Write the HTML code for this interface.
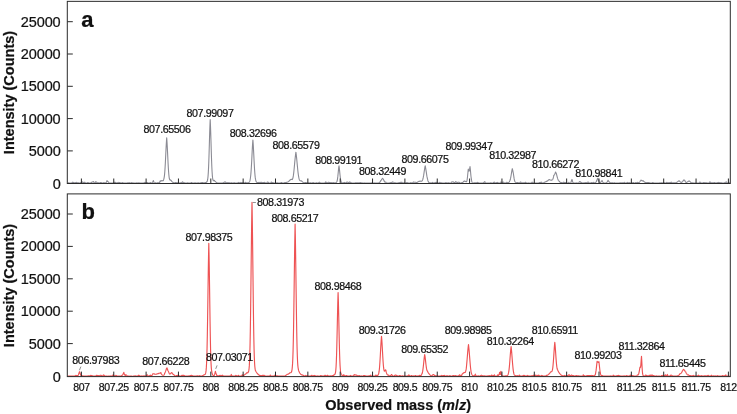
<!DOCTYPE html><html><head><meta charset="utf-8"><title>Mass spectra</title>
<style>html,body{margin:0;padding:0;background:#fff}svg{display:block;will-change:transform}text{font-family:"Liberation Sans",Arial,sans-serif;fill:#111;stroke:#111;stroke-width:0.22px}</style></head><body>
<svg width="737" height="414" viewBox="0 0 737 414">
<rect width="100%" height="100%" fill="#fff"/>
<path d="M67.80 182.99 L68.05 182.93 L68.30 182.84 L68.55 182.82 L68.80 182.80 L69.05 182.88 L69.30 182.94 L69.55 183.03 L69.80 183.07 L70.05 183.06 L70.30 183.04 L70.55 183.02 L70.80 183.00 L71.05 182.97 L71.30 182.93 L71.55 182.89 L71.80 182.86 L72.05 182.80 L72.30 182.74 L72.55 182.51 L72.80 182.20 L73.05 182.47 L73.30 182.68 L73.55 182.62 L73.80 182.55 L74.05 182.79 L74.30 182.95 L74.55 182.92 L74.80 182.89 L75.05 182.83 L75.30 182.77 L75.55 182.64 L75.80 182.49 L76.05 182.44 L76.30 182.39 L76.55 182.48 L76.80 182.57 L77.05 182.74 L77.30 182.86 L77.55 182.86 L77.80 182.86 L78.05 182.87 L78.30 182.89 L78.55 182.84 L78.80 182.77 L79.05 182.94 L79.30 183.04 L79.55 183.01 L79.80 182.97 L80.05 182.94 L80.30 182.91 L80.55 182.73 L80.80 182.46 L81.05 182.46 L81.30 182.45 L81.55 182.33 L81.80 182.19 L82.05 182.07 L82.30 181.93 L82.55 182.24 L82.80 182.49 L83.05 182.45 L83.30 182.40 L83.55 182.61 L83.80 182.78 L84.05 182.59 L84.30 182.34 L84.55 182.30 L84.80 182.25 L85.05 182.43 L85.30 182.59 L85.55 182.85 L85.80 183.00 L86.05 183.07 L86.30 183.09 L86.55 183.05 L86.80 182.93 L87.05 182.87 L87.30 182.79 L87.55 182.66 L87.80 182.49 L88.05 182.74 L88.30 182.91 L88.55 182.90 L88.80 182.88 L89.05 182.93 L89.30 182.98 L89.55 182.97 L89.80 182.96 L90.05 182.95 L90.30 182.93 L90.55 182.89 L90.80 182.84 L91.05 182.67 L91.30 182.45 L91.55 182.40 L91.80 182.35 L92.05 182.16 L92.30 181.93 L92.55 181.97 L92.80 182.00 L93.05 181.78 L93.30 181.53 L93.55 181.74 L93.80 181.93 L94.05 182.35 L94.30 182.65 L94.55 182.70 L94.80 182.74 L95.05 182.64 L95.30 182.52 L95.55 182.14 L95.80 181.61 L96.05 181.83 L96.30 182.04 L96.55 182.19 L96.80 182.33 L97.05 182.64 L97.30 182.86 L97.55 182.79 L97.80 182.70 L98.05 182.75 L98.30 182.79 L98.55 182.77 L98.80 182.75 L99.05 182.94 L99.30 183.04 L99.55 183.01 L99.80 182.97 L100.05 182.82 L100.30 182.59 L100.55 182.58 L100.80 182.57 L101.05 182.59 L101.30 182.61 L101.55 182.81 L101.80 182.94 L102.05 182.93 L102.30 182.91 L102.55 183.00 L102.80 183.05 L103.05 183.02 L103.30 182.97 L103.55 182.81 L103.80 182.57 L104.05 182.66 L104.30 182.75 L104.55 182.79 L104.80 182.83 L105.05 182.98 L105.30 183.05 L105.55 182.96 L105.80 182.78 L106.05 182.67 L106.30 182.39 L106.55 181.79 L106.80 181.05 L107.00 180.68 L107.05 180.72 L107.30 180.98 L107.55 181.36 L107.80 181.66 L108.05 181.84 L108.30 181.88 L108.55 182.33 L108.80 182.64 L109.05 182.79 L109.30 182.90 L109.55 182.97 L109.80 183.03 L110.05 183.05 L110.30 183.07 L110.55 183.07 L110.80 183.06 L111.05 183.07 L111.30 183.08 L111.55 183.04 L111.80 182.97 L112.05 182.97 L112.30 182.98 L112.55 183.03 L112.80 183.06 L113.05 183.04 L113.30 183.01 L113.55 182.99 L113.80 182.97 L114.05 182.75 L114.30 182.38 L114.55 182.37 L114.80 182.35 L115.05 182.32 L115.30 182.28 L115.55 182.53 L115.80 182.72 L116.05 182.83 L116.30 182.92 L116.55 182.86 L116.80 182.79 L117.05 182.74 L117.30 182.70 L117.55 182.69 L117.80 182.67 L118.05 182.68 L118.30 182.69 L118.55 182.56 L118.80 182.40 L119.05 182.43 L119.30 182.45 L119.55 182.54 L119.80 182.61 L120.05 182.69 L120.30 182.77 L120.55 182.84 L120.80 182.90 L121.05 182.93 L121.30 182.95 L121.55 182.90 L121.80 182.84 L122.05 182.77 L122.30 182.67 L122.55 182.58 L122.80 182.47 L123.05 182.82 L123.30 183.01 L123.55 183.02 L123.80 183.03 L124.05 183.03 L124.30 183.03 L124.55 183.02 L124.80 183.02 L125.05 183.00 L125.30 182.97 L125.55 182.96 L125.80 182.95 L126.05 182.94 L126.30 182.94 L126.55 182.93 L126.80 182.93 L127.05 182.96 L127.30 182.99 L127.55 182.87 L127.80 182.69 L128.05 182.78 L128.30 182.85 L128.55 182.79 L128.80 182.71 L129.05 182.69 L129.30 182.67 L129.55 182.78 L129.80 182.87 L130.05 182.99 L130.30 183.06 L130.55 183.06 L130.80 183.07 L131.05 182.96 L131.30 182.74 L131.55 182.68 L131.80 182.60 L132.05 182.69 L132.30 182.76 L132.55 182.86 L132.80 182.94 L133.05 182.93 L133.30 182.91 L133.55 182.93 L133.80 182.95 L134.05 182.99 L134.30 183.03 L134.55 183.02 L134.80 183.02 L135.05 182.99 L135.30 182.95 L135.55 182.95 L135.80 182.95 L136.05 182.95 L136.30 182.95 L136.55 182.91 L136.80 182.88 L137.05 182.93 L137.30 182.98 L137.55 182.95 L137.80 182.91 L138.05 182.92 L138.30 182.93 L138.55 182.87 L138.80 182.79 L139.05 182.88 L139.30 182.95 L139.55 182.94 L139.80 182.92 L140.05 182.94 L140.30 182.95 L140.55 182.96 L140.80 182.96 L141.05 183.02 L141.30 183.05 L141.55 183.00 L141.80 182.93 L142.05 182.95 L142.30 182.96 L142.55 182.98 L142.80 183.00 L143.05 183.04 L143.30 183.07 L143.55 183.00 L143.80 182.86 L144.05 182.83 L144.30 182.80 L144.55 182.62 L144.80 182.39 L145.05 182.68 L145.30 182.87 L145.55 182.89 L145.80 182.91 L146.05 182.95 L146.30 182.99 L146.55 182.85 L146.80 182.62 L147.05 182.57 L147.30 182.53 L147.55 182.69 L147.80 182.82 L148.05 182.98 L148.30 183.06 L148.55 183.06 L148.80 183.05 L149.05 183.05 L149.30 183.06 L149.55 182.98 L149.80 182.84 L150.05 182.75 L150.30 182.65 L150.55 182.65 L150.80 182.65 L151.05 182.82 L151.30 182.93 L151.55 182.94 L151.80 182.93 L152.05 182.82 L152.30 182.64 L152.55 182.27 L152.80 181.60 L153.05 181.16 L153.30 180.67 L153.40 180.55 L153.55 180.95 L153.80 181.76 L154.05 182.47 L154.30 182.86 L154.55 182.95 L154.80 182.93 L155.05 182.92 L155.30 182.90 L155.55 182.89 L155.80 182.88 L156.05 182.95 L156.30 183.00 L156.55 182.98 L156.80 182.96 L157.05 182.94 L157.30 182.92 L157.55 182.81 L157.80 182.65 L158.05 182.71 L158.30 182.76 L158.55 182.81 L158.80 182.83 L159.05 182.77 L159.30 182.70 L159.55 182.49 L159.80 182.17 L160.05 181.59 L160.30 180.75 L160.55 181.01 L160.80 181.20 L161.05 181.01 L161.30 180.82 L161.55 180.71 L161.80 180.60 L162.00 180.59 L162.05 180.61 L162.30 180.72 L162.55 180.80 L162.80 180.83 L163.05 180.76 L163.30 180.56 L163.55 179.97 L163.80 179.07 L164.05 178.12 L164.30 176.63 L164.55 174.60 L164.80 171.77 L165.05 168.08 L165.30 163.66 L165.55 158.70 L165.80 153.49 L166.05 148.38 L166.30 143.74 L166.55 139.81 L166.70 137.86 L166.80 139.11 L167.05 142.87 L167.30 147.40 L167.55 152.37 L167.80 157.45 L168.05 162.69 L168.30 167.40 L168.55 171.23 L168.80 174.23 L169.05 176.68 L169.30 178.46 L169.55 179.31 L169.80 179.55 L170.05 180.01 L170.30 180.26 L170.55 180.21 L170.80 180.08 L171.05 180.33 L171.30 180.54 L171.50 180.90 L171.55 181.00 L171.80 181.44 L172.05 181.64 L172.30 181.84 L172.55 182.08 L172.80 182.30 L173.05 182.42 L173.30 182.51 L173.55 182.64 L173.80 182.74 L174.05 182.75 L174.30 182.73 L174.55 182.73 L174.80 182.73 L175.05 182.66 L175.30 182.58 L175.55 182.55 L175.80 182.52 L176.05 182.56 L176.30 182.59 L176.55 182.82 L176.80 182.96 L177.05 182.92 L177.30 182.87 L177.55 182.84 L177.80 182.80 L178.05 182.63 L178.30 182.40 L178.55 182.62 L178.80 182.79 L179.05 182.86 L179.30 182.93 L179.55 182.97 L179.80 183.01 L180.05 182.93 L180.30 182.83 L180.55 182.83 L180.80 182.84 L181.05 182.77 L181.30 182.69 L181.55 182.65 L181.80 182.61 L182.05 182.32 L182.30 181.93 L182.55 181.90 L182.80 181.88 L183.05 182.43 L183.30 182.78 L183.55 182.83 L183.80 182.87 L184.05 182.86 L184.30 182.85 L184.55 182.84 L184.80 182.83 L185.05 182.91 L185.30 182.98 L185.55 183.05 L185.80 183.08 L186.05 183.06 L186.30 183.01 L186.55 182.99 L186.80 182.97 L187.05 182.93 L187.30 182.89 L187.55 182.83 L187.80 182.76 L188.05 182.87 L188.30 182.96 L188.55 183.02 L188.80 183.06 L189.05 183.09 L189.30 183.10 L189.55 183.10 L189.80 183.10 L190.05 183.10 L190.30 183.10 L190.55 183.07 L190.80 182.98 L191.05 182.84 L191.30 182.60 L191.55 182.59 L191.80 182.58 L192.05 182.75 L192.30 182.88 L192.55 182.98 L192.80 183.05 L193.05 183.02 L193.30 182.99 L193.55 183.01 L193.80 183.03 L194.05 182.99 L194.30 182.93 L194.55 182.88 L194.80 182.81 L195.05 182.81 L195.30 182.80 L195.55 182.91 L195.80 182.99 L196.05 183.02 L196.30 183.05 L196.55 183.07 L196.80 183.08 L197.05 183.06 L197.30 183.02 L197.55 182.97 L197.80 182.90 L198.05 182.84 L198.30 182.77 L198.55 182.89 L198.80 182.98 L199.05 183.04 L199.30 183.08 L199.55 183.08 L199.80 183.08 L200.05 183.05 L200.30 182.98 L200.55 182.87 L200.80 182.70 L201.05 182.69 L201.30 182.69 L201.55 182.62 L201.80 182.54 L202.05 182.60 L202.30 182.66 L202.55 182.64 L202.80 182.61 L203.05 182.75 L203.30 182.86 L203.55 182.88 L203.80 182.89 L204.05 182.82 L204.30 182.74 L204.55 182.71 L204.80 182.67 L205.05 182.58 L205.30 182.47 L205.55 182.50 L205.80 182.50 L206.05 182.46 L206.30 182.38 L206.55 182.25 L206.80 182.03 L207.05 181.61 L207.30 180.95 L207.55 180.01 L207.80 178.48 L208.05 176.12 L208.30 172.65 L208.55 167.88 L208.80 161.70 L209.05 154.15 L209.30 145.69 L209.55 137.12 L209.80 129.11 L210.05 122.65 L210.20 119.52 L210.30 121.56 L210.55 127.73 L210.80 135.26 L211.05 143.63 L211.30 152.01 L211.55 159.68 L211.80 166.15 L212.05 171.32 L212.30 175.08 L212.55 177.67 L212.80 179.28 L213.05 180.12 L213.30 180.50 L213.55 180.69 L213.80 180.75 L214.00 180.59 L214.05 180.58 L214.30 180.44 L214.55 180.72 L214.80 180.99 L215.05 181.23 L215.30 181.44 L215.55 181.72 L215.80 181.95 L216.05 182.18 L216.30 182.36 L216.55 182.62 L216.80 182.81 L217.05 182.86 L217.30 182.91 L217.55 183.00 L217.80 183.05 L218.05 183.05 L218.30 183.05 L218.55 183.04 L218.80 183.03 L219.05 183.03 L219.30 183.03 L219.55 183.03 L219.80 183.04 L220.05 183.08 L220.30 183.10 L220.55 183.08 L220.80 183.01 L221.05 183.00 L221.30 182.98 L221.55 183.00 L221.80 183.01 L222.05 183.01 L222.30 183.02 L222.55 183.02 L222.80 183.03 L223.05 182.90 L223.30 182.67 L223.55 182.72 L223.80 182.78 L224.05 182.52 L224.30 182.14 L224.55 182.08 L224.80 182.01 L225.05 182.07 L225.30 182.13 L225.55 182.15 L225.80 182.17 L226.05 182.62 L226.30 182.89 L226.55 182.85 L226.80 182.80 L227.05 182.87 L227.30 182.93 L227.55 182.77 L227.80 182.52 L228.05 182.76 L228.30 182.93 L228.55 182.88 L228.80 182.82 L229.05 182.75 L229.30 182.68 L229.55 182.70 L229.80 182.71 L230.05 182.84 L230.30 182.93 L230.55 182.99 L230.80 183.04 L231.05 182.93 L231.30 182.73 L231.55 182.76 L231.80 182.78 L232.05 182.88 L232.30 182.96 L232.55 183.03 L232.80 183.08 L233.05 183.05 L233.30 183.02 L233.55 182.93 L233.80 182.79 L234.05 182.75 L234.30 182.70 L234.55 182.78 L234.80 182.85 L235.05 182.93 L235.30 182.99 L235.55 182.99 L235.80 183.00 L236.05 182.99 L236.30 182.98 L236.55 183.02 L236.80 183.05 L237.05 183.04 L237.30 183.03 L237.55 182.95 L237.80 182.82 L238.05 182.73 L238.30 182.61 L238.55 182.50 L238.80 182.39 L239.05 182.72 L239.30 182.93 L239.55 182.87 L239.80 182.80 L240.05 182.80 L240.30 182.79 L240.55 182.62 L240.80 182.40 L241.05 182.48 L241.30 182.56 L241.55 182.66 L241.80 182.75 L242.05 182.76 L242.30 182.77 L242.55 182.65 L242.80 182.49 L243.05 182.63 L243.30 182.74 L243.55 182.89 L243.80 182.98 L244.05 183.00 L244.30 183.02 L244.55 182.89 L244.80 182.68 L245.05 182.52 L245.30 182.31 L245.55 182.46 L245.80 182.58 L246.05 182.64 L246.30 182.69 L246.55 182.77 L246.80 182.83 L247.05 182.84 L247.30 182.85 L247.55 182.88 L247.80 182.88 L248.05 182.80 L248.30 182.70 L248.55 182.61 L248.80 182.49 L249.05 182.32 L249.30 182.08 L249.55 181.70 L249.80 181.14 L250.05 180.18 L250.30 178.77 L250.55 177.03 L250.80 174.67 L251.05 171.63 L251.30 167.88 L251.55 163.69 L251.80 159.01 L252.05 153.88 L252.30 148.87 L252.55 144.63 L252.80 141.13 L252.90 139.96 L253.05 141.83 L253.30 145.59 L253.55 150.17 L253.80 155.14 L254.05 160.17 L254.30 164.95 L254.55 169.21 L254.80 172.81 L255.05 175.69 L255.30 177.88 L255.55 179.46 L255.80 180.57 L256.05 181.34 L256.30 181.85 L256.55 182.19 L256.80 182.42 L257.05 182.50 L257.30 182.49 L257.55 182.62 L257.80 182.72 L258.05 182.62 L258.30 182.43 L258.55 182.57 L258.80 182.69 L259.05 182.56 L259.30 182.38 L259.55 182.61 L259.80 182.78 L260.05 182.69 L260.30 182.57 L260.55 182.48 L260.80 182.38 L261.05 182.34 L261.30 182.29 L261.55 182.47 L261.80 182.62 L262.05 182.66 L262.30 182.69 L262.55 182.59 L262.80 182.46 L263.05 182.49 L263.30 182.53 L263.55 182.53 L263.80 182.52 L264.05 182.47 L264.30 182.43 L264.55 182.39 L264.80 182.36 L265.05 182.59 L265.30 182.77 L265.55 182.94 L265.80 183.04 L266.05 183.01 L266.30 182.98 L266.55 182.90 L266.80 182.78 L267.05 182.52 L267.30 182.15 L267.55 182.06 L267.80 181.97 L268.05 182.24 L268.30 182.46 L268.55 182.76 L268.80 182.94 L269.05 183.03 L269.30 183.08 L269.55 183.08 L269.80 183.08 L270.05 183.05 L270.30 182.99 L270.55 182.88 L270.80 182.71 L271.05 182.41 L271.30 182.00 L271.55 182.28 L271.80 182.50 L272.05 182.50 L272.30 182.50 L272.55 182.72 L272.80 182.88 L273.05 182.84 L273.30 182.80 L273.55 182.84 L273.80 182.87 L274.05 182.92 L274.30 182.96 L274.55 183.01 L274.80 183.05 L275.05 183.04 L275.30 183.02 L275.55 183.00 L275.80 182.97 L276.05 182.92 L276.30 182.86 L276.55 182.92 L276.80 182.96 L277.05 182.89 L277.30 182.79 L277.55 182.88 L277.80 182.95 L278.05 182.99 L278.30 183.02 L278.55 183.05 L278.80 183.06 L279.05 183.02 L279.30 182.95 L279.55 182.97 L279.80 182.99 L280.05 182.97 L280.30 182.94 L280.55 182.84 L280.80 182.70 L281.05 182.64 L281.30 182.57 L281.55 182.58 L281.80 182.60 L282.05 182.86 L282.30 183.01 L282.55 183.02 L282.80 183.03 L283.05 183.01 L283.30 183.00 L283.55 183.00 L283.80 182.99 L284.05 182.89 L284.30 182.73 L284.55 182.65 L284.80 182.55 L285.05 182.55 L285.30 182.54 L285.55 182.51 L285.80 182.47 L286.05 182.64 L286.30 182.74 L286.55 182.51 L286.80 182.18 L287.05 182.20 L287.30 182.18 L287.55 182.10 L287.80 181.99 L288.05 181.87 L288.30 181.71 L288.55 181.54 L288.80 181.34 L289.05 180.93 L289.30 180.46 L289.55 180.40 L289.80 180.32 L290.05 180.06 L290.30 179.81 L290.50 179.61 L290.55 179.61 L290.80 179.60 L291.05 179.46 L291.30 179.26 L291.55 179.39 L291.80 179.44 L292.05 179.62 L292.30 179.51 L292.55 179.02 L292.80 178.29 L293.05 177.28 L293.30 175.95 L293.55 174.20 L293.80 172.07 L294.05 169.73 L294.30 167.15 L294.55 164.41 L294.80 161.61 L295.05 159.18 L295.30 156.87 L295.55 154.69 L295.80 152.85 L295.90 152.20 L296.05 153.18 L296.30 155.09 L296.55 157.34 L296.80 159.85 L297.05 162.46 L297.30 165.11 L297.55 167.76 L297.80 170.26 L298.05 172.53 L298.30 174.52 L298.55 176.15 L298.80 177.47 L299.05 178.64 L299.30 179.51 L299.55 180.03 L299.80 180.36 L300.05 180.64 L300.30 180.83 L300.55 180.82 L300.80 180.75 L301.00 180.71 L301.05 180.73 L301.30 180.82 L301.55 181.02 L301.80 181.22 L302.05 181.44 L302.30 181.65 L302.55 181.88 L302.80 182.10 L303.05 182.32 L303.30 182.51 L303.55 182.65 L303.80 182.75 L304.05 182.81 L304.30 182.83 L304.55 182.80 L304.80 182.71 L305.05 182.59 L305.30 182.43 L305.55 182.43 L305.80 182.43 L306.05 182.60 L306.30 182.74 L306.55 182.82 L306.80 182.89 L307.05 182.96 L307.30 183.01 L307.55 182.94 L307.80 182.83 L308.05 182.88 L308.30 182.93 L308.55 182.91 L308.80 182.88 L309.05 183.00 L309.30 183.06 L309.55 182.98 L309.80 182.84 L310.05 182.88 L310.30 182.91 L310.55 182.89 L310.80 182.87 L311.05 182.95 L311.30 183.00 L311.55 182.98 L311.80 182.95 L312.05 182.85 L312.30 182.73 L312.55 182.74 L312.80 182.76 L313.05 182.66 L313.30 182.54 L313.55 182.78 L313.80 182.93 L314.05 182.95 L314.30 182.96 L314.55 183.05 L314.80 183.09 L315.05 183.09 L315.30 183.09 L315.55 183.07 L315.80 183.03 L316.05 182.94 L316.30 182.79 L316.55 182.77 L316.80 182.75 L317.05 182.90 L317.30 183.00 L317.55 183.04 L317.80 183.06 L318.05 183.01 L318.30 182.92 L318.55 182.76 L318.80 182.53 L319.05 182.38 L319.30 182.20 L319.55 182.28 L319.80 182.36 L320.05 182.66 L320.30 182.86 L320.55 182.93 L320.80 182.99 L321.05 183.04 L321.30 183.07 L321.55 183.04 L321.80 183.00 L322.05 182.97 L322.30 182.94 L322.55 182.94 L322.80 182.94 L323.05 182.99 L323.30 183.02 L323.55 182.99 L323.80 182.96 L324.05 182.99 L324.30 183.01 L324.55 182.92 L324.80 182.79 L325.05 182.76 L325.30 182.72 L325.55 182.34 L325.80 181.75 L326.05 182.04 L326.30 182.29 L326.55 182.46 L326.80 182.61 L327.05 182.74 L327.30 182.84 L327.55 182.77 L327.80 182.69 L328.05 182.53 L328.30 182.33 L328.55 182.27 L328.80 182.21 L329.05 182.39 L329.30 182.55 L329.55 182.59 L329.80 182.64 L330.05 182.71 L330.30 182.77 L330.55 182.68 L330.80 182.56 L331.05 182.61 L331.30 182.66 L331.55 182.81 L331.80 182.92 L332.05 182.89 L332.30 182.85 L332.55 182.86 L332.80 182.88 L333.05 182.74 L333.30 182.56 L333.55 182.65 L333.80 182.73 L334.05 182.78 L334.30 182.83 L334.55 182.88 L334.80 182.92 L335.05 182.90 L335.30 182.87 L335.55 182.89 L335.80 182.87 L336.05 182.76 L336.30 182.58 L336.55 182.32 L336.80 181.90 L337.05 181.16 L337.30 180.04 L337.55 178.58 L337.80 176.67 L338.05 174.30 L338.30 171.73 L338.55 169.14 L338.80 166.84 L339.00 165.77 L339.05 166.11 L339.30 168.06 L339.55 170.33 L339.80 172.83 L340.05 175.32 L340.30 177.53 L340.55 179.27 L340.80 180.56 L341.05 181.51 L341.30 182.12 L341.55 182.50 L341.80 182.72 L342.05 182.83 L342.30 182.90 L342.55 182.94 L342.80 182.96 L343.05 182.90 L343.30 182.77 L343.55 182.72 L343.80 182.64 L344.05 182.52 L344.30 182.38 L344.55 182.49 L344.80 182.59 L345.05 182.67 L345.30 182.73 L345.55 182.74 L345.80 182.74 L346.05 182.77 L346.30 182.80 L346.55 182.52 L346.80 182.10 L347.05 182.19 L347.30 182.27 L347.55 182.19 L347.80 182.11 L348.05 182.43 L348.30 182.67 L348.55 182.64 L348.80 182.60 L349.05 182.53 L349.30 182.44 L349.55 182.16 L349.80 181.81 L350.05 182.07 L350.30 182.29 L350.55 182.38 L350.80 182.46 L351.05 182.62 L351.30 182.75 L351.55 182.85 L351.80 182.92 L352.05 183.03 L352.30 183.08 L352.55 183.09 L352.80 183.10 L353.05 183.10 L353.30 183.10 L353.55 183.10 L353.80 183.09 L354.05 183.08 L354.30 183.05 L354.55 183.00 L354.80 182.92 L355.05 182.83 L355.30 182.72 L355.55 182.74 L355.80 182.77 L356.05 182.78 L356.30 182.79 L356.55 182.86 L356.80 182.91 L357.05 182.90 L357.30 182.89 L357.55 182.87 L357.80 182.84 L358.05 182.81 L358.30 182.79 L358.55 182.86 L358.80 182.92 L359.05 182.89 L359.30 182.86 L359.55 182.78 L359.80 182.67 L360.05 182.60 L360.30 182.53 L360.55 182.73 L360.80 182.87 L361.05 182.91 L361.30 182.95 L361.55 182.91 L361.80 182.85 L362.05 182.89 L362.30 182.92 L362.55 183.01 L362.80 183.06 L363.05 183.08 L363.30 183.09 L363.55 183.07 L363.80 183.03 L364.05 183.01 L364.30 182.99 L364.55 182.95 L364.80 182.90 L365.05 183.00 L365.30 183.06 L365.55 183.06 L365.80 183.05 L366.05 183.07 L366.30 183.09 L366.55 183.08 L366.80 183.06 L367.05 183.07 L367.30 183.07 L367.55 183.08 L367.80 183.08 L368.05 183.09 L368.30 183.10 L368.55 183.10 L368.80 183.10 L369.05 183.09 L369.30 183.07 L369.55 183.07 L369.80 183.07 L370.05 183.08 L370.30 183.09 L370.55 183.09 L370.80 183.09 L371.05 183.07 L371.30 183.05 L371.55 182.97 L371.80 182.82 L372.05 182.91 L372.30 182.98 L372.55 182.98 L372.80 182.98 L373.05 183.02 L373.30 183.05 L373.55 183.05 L373.80 183.06 L374.05 183.00 L374.30 182.90 L374.55 182.93 L374.80 182.96 L375.05 182.95 L375.30 182.94 L375.55 183.01 L375.80 183.05 L376.05 183.05 L376.30 183.05 L376.55 183.01 L376.80 182.93 L377.05 182.95 L377.30 182.96 L377.55 182.96 L377.80 182.95 L378.05 182.99 L378.30 183.00 L378.55 182.96 L378.80 182.89 L379.05 182.82 L379.30 182.71 L379.55 182.47 L379.80 182.10 L380.05 181.97 L380.30 181.77 L380.55 181.23 L380.80 180.54 L381.05 180.33 L381.30 180.03 L381.55 179.61 L381.80 179.19 L382.05 178.90 L382.30 178.60 L382.50 178.32 L382.55 178.37 L382.80 178.61 L383.05 178.91 L383.30 179.25 L383.55 179.70 L383.80 180.16 L384.05 180.83 L384.30 181.38 L384.55 181.75 L384.80 182.05 L385.05 182.18 L385.30 182.20 L385.55 182.15 L385.80 182.01 L386.05 182.40 L386.30 182.68 L386.55 182.90 L386.80 183.00 L387.05 183.04 L387.30 183.05 L387.55 183.06 L387.80 183.07 L388.05 183.07 L388.30 183.08 L388.55 183.08 L388.80 183.08 L389.05 183.08 L389.30 183.06 L389.55 182.97 L389.80 182.79 L390.05 182.75 L390.30 182.70 L390.55 182.58 L390.80 182.44 L391.05 182.62 L391.30 182.77 L391.55 182.55 L391.80 182.26 L392.05 182.29 L392.30 182.32 L392.55 182.05 L392.80 181.72 L393.05 182.23 L393.30 182.60 L393.55 182.81 L393.80 182.95 L394.05 183.00 L394.30 183.04 L394.55 182.90 L394.80 182.63 L395.05 182.71 L395.30 182.78 L395.55 182.86 L395.80 182.93 L396.05 182.95 L396.30 182.96 L396.55 182.96 L396.80 182.95 L397.05 182.94 L397.30 182.92 L397.55 183.00 L397.80 183.06 L398.05 183.00 L398.30 182.90 L398.55 182.76 L398.80 182.56 L399.05 182.63 L399.30 182.68 L399.55 182.66 L399.80 182.64 L400.05 182.71 L400.30 182.77 L400.55 182.53 L400.80 182.20 L401.05 182.30 L401.30 182.40 L401.55 182.30 L401.80 182.19 L402.05 182.44 L402.30 182.64 L402.55 182.69 L402.80 182.74 L403.05 182.92 L403.30 183.02 L403.55 182.97 L403.80 182.89 L404.05 182.87 L404.30 182.86 L404.55 182.85 L404.80 182.84 L405.05 182.96 L405.30 183.04 L405.55 183.02 L405.80 182.98 L406.05 182.93 L406.30 182.85 L406.55 182.69 L406.80 182.48 L407.05 182.62 L407.30 182.74 L407.55 182.77 L407.80 182.81 L408.05 182.93 L408.30 183.02 L408.55 182.97 L408.80 182.92 L409.05 182.99 L409.30 183.04 L409.55 183.01 L409.80 182.97 L410.05 182.96 L410.30 182.95 L410.55 182.81 L410.80 182.59 L411.05 182.72 L411.30 182.83 L411.55 182.94 L411.80 183.01 L412.05 182.99 L412.30 182.96 L412.55 182.86 L412.80 182.70 L413.05 182.45 L413.30 182.10 L413.55 182.08 L413.80 182.05 L414.05 182.16 L414.30 182.25 L414.55 182.23 L414.80 182.20 L415.05 182.25 L415.30 182.29 L415.55 182.31 L415.80 182.32 L416.05 182.46 L416.30 182.54 L416.55 182.59 L416.80 182.57 L417.05 182.47 L417.30 182.36 L417.55 182.18 L417.80 181.96 L418.05 181.82 L418.30 181.68 L418.55 181.51 L418.80 181.33 L419.05 181.39 L419.30 181.36 L419.55 181.25 L419.80 181.15 L420.00 181.06 L420.05 181.07 L420.30 181.12 L420.55 181.16 L420.80 181.19 L421.05 181.23 L421.30 181.24 L421.55 181.25 L421.80 181.16 L422.05 180.95 L422.30 180.59 L422.55 180.03 L422.80 179.24 L423.05 178.34 L423.30 177.21 L423.55 175.89 L423.80 174.37 L424.05 172.66 L424.30 170.92 L424.55 169.26 L424.80 167.76 L425.05 166.43 L425.20 165.75 L425.30 166.13 L425.55 167.52 L425.80 169.09 L426.05 170.62 L426.30 172.20 L426.55 173.93 L426.80 175.57 L427.05 176.92 L427.30 178.04 L427.55 179.23 L427.80 180.19 L428.05 181.00 L428.30 181.60 L428.55 182.08 L428.80 182.40 L429.05 182.60 L429.30 182.74 L429.55 182.79 L429.80 182.79 L430.05 182.84 L430.30 182.88 L430.55 182.91 L430.80 182.94 L431.05 182.94 L431.30 182.94 L431.55 182.93 L431.80 182.93 L432.05 182.75 L432.30 182.43 L432.55 182.76 L432.80 182.96 L433.05 182.92 L433.30 182.86 L433.55 182.99 L433.80 183.06 L434.05 182.98 L434.30 182.84 L434.55 182.80 L434.80 182.75 L435.05 182.61 L435.30 182.43 L435.55 182.46 L435.80 182.49 L436.05 182.37 L436.30 182.23 L436.55 182.39 L436.80 182.53 L437.05 182.60 L437.30 182.66 L437.55 182.79 L437.80 182.90 L438.05 182.95 L438.30 182.99 L438.55 182.95 L438.80 182.90 L439.05 182.87 L439.30 182.83 L439.55 182.60 L439.80 182.27 L440.05 182.57 L440.30 182.79 L440.55 182.81 L440.80 182.82 L441.05 182.91 L441.30 182.97 L441.55 182.87 L441.80 182.72 L442.05 182.85 L442.30 182.95 L442.55 182.97 L442.80 182.99 L443.05 183.02 L443.30 183.05 L443.55 183.05 L443.80 183.05 L444.05 183.03 L444.30 183.00 L444.55 182.96 L444.80 182.92 L445.05 182.83 L445.30 182.73 L445.55 182.70 L445.80 182.67 L446.05 182.71 L446.30 182.75 L446.55 182.81 L446.80 182.87 L447.05 182.93 L447.30 182.98 L447.55 182.91 L447.80 182.82 L448.05 182.79 L448.30 182.75 L448.55 182.73 L448.80 182.70 L449.05 182.94 L449.30 183.05 L449.55 183.06 L449.80 183.07 L450.05 183.08 L450.30 183.09 L450.55 183.05 L450.80 182.93 L451.05 182.82 L451.30 182.66 L451.55 182.34 L451.80 181.91 L452.05 181.87 L452.30 181.83 L452.55 181.91 L452.80 181.99 L453.05 181.95 L453.30 181.91 L453.55 182.20 L453.80 182.44 L454.05 182.53 L454.30 182.61 L454.55 182.60 L454.80 182.59 L455.05 182.43 L455.30 182.24 L455.55 181.90 L455.80 181.49 L456.05 181.86 L456.30 182.16 L456.55 182.24 L456.80 182.31 L457.05 182.57 L457.30 182.76 L457.55 182.58 L457.80 182.34 L458.05 182.26 L458.30 182.17 L458.55 182.24 L458.80 182.30 L459.05 182.33 L459.30 182.36 L459.55 182.67 L459.80 182.88 L460.05 182.91 L460.30 182.94 L460.55 182.97 L460.80 182.98 L461.05 182.95 L461.30 182.91 L461.55 182.80 L461.80 182.65 L462.05 182.60 L462.30 182.51 L462.55 182.43 L462.80 182.31 L463.05 182.08 L463.30 181.82 L463.55 181.67 L463.80 181.51 L464.05 181.25 L464.30 180.99 L464.50 180.94 L464.55 180.98 L464.80 181.18 L465.05 181.27 L465.30 181.35 L465.55 181.45 L465.80 181.51 L466.05 181.63 L466.30 181.65 L466.55 181.62 L466.80 181.19 L467.05 180.18 L467.30 178.55 L467.55 176.31 L467.80 173.75 L468.05 171.25 L468.30 169.06 L468.55 169.96 L468.80 170.82 L469.05 171.16 L469.30 170.67 L469.55 169.39 L469.80 167.80 L470.00 166.56 L470.05 166.93 L470.30 169.01 L470.55 171.79 L470.80 174.58 L471.05 176.98 L471.30 178.70 L471.55 180.38 L471.80 181.45 L472.05 182.19 L472.30 182.62 L472.55 182.82 L472.80 182.93 L473.05 182.96 L473.30 182.98 L473.55 182.95 L473.80 182.91 L474.05 182.87 L474.30 182.82 L474.55 182.85 L474.80 182.88 L475.05 182.80 L475.30 182.70 L475.55 182.78 L475.80 182.85 L476.05 182.83 L476.30 182.80 L476.55 182.79 L476.80 182.78 L477.05 182.60 L477.30 182.36 L477.55 182.45 L477.80 182.52 L478.05 182.76 L478.30 182.92 L478.55 182.92 L478.80 182.92 L479.05 182.97 L479.30 183.01 L479.55 183.03 L479.80 183.04 L480.05 183.06 L480.30 183.08 L480.55 183.04 L480.80 182.97 L481.05 182.97 L481.30 182.96 L481.55 183.03 L481.80 183.07 L482.05 183.09 L482.30 183.09 L482.55 183.07 L482.80 183.02 L483.05 182.96 L483.30 182.88 L483.55 182.65 L483.80 182.30 L484.05 182.29 L484.30 182.29 L484.55 181.97 L484.80 181.58 L485.05 182.24 L485.30 182.67 L485.55 182.85 L485.80 182.97 L486.05 183.07 L486.30 183.10 L486.55 183.09 L486.80 183.08 L487.05 183.07 L487.30 183.06 L487.55 183.06 L487.80 183.06 L488.05 183.05 L488.30 183.04 L488.55 183.06 L488.80 183.08 L489.05 183.06 L489.30 183.04 L489.55 183.06 L489.80 183.08 L490.05 183.03 L490.30 182.92 L490.55 182.89 L490.80 182.87 L491.05 182.87 L491.30 182.86 L491.55 183.00 L491.80 183.07 L492.05 183.07 L492.30 183.07 L492.55 183.04 L492.80 183.00 L493.05 182.89 L493.30 182.72 L493.55 182.54 L493.80 182.30 L494.05 182.20 L494.30 182.09 L494.55 182.34 L494.80 182.54 L495.05 182.81 L495.30 182.98 L495.55 182.98 L495.80 182.99 L496.05 182.89 L496.30 182.75 L496.55 182.62 L496.80 182.46 L497.05 182.43 L497.30 182.39 L497.55 182.50 L497.80 182.60 L498.05 182.69 L498.30 182.76 L498.55 182.93 L498.80 183.03 L499.05 183.07 L499.30 183.09 L499.55 183.08 L499.80 183.06 L500.05 182.98 L500.30 182.82 L500.55 182.51 L500.80 182.03 L501.05 182.14 L501.30 182.24 L501.55 182.37 L501.80 182.48 L502.05 182.47 L502.30 182.46 L502.55 182.28 L502.80 182.07 L503.05 182.11 L503.30 182.15 L503.55 182.43 L503.80 182.64 L504.05 182.74 L504.30 182.83 L504.55 182.92 L504.80 182.99 L505.05 183.01 L505.30 183.03 L505.55 183.01 L505.80 182.99 L506.05 182.85 L506.30 182.59 L506.55 182.43 L506.80 182.24 L507.05 182.36 L507.30 182.47 L507.55 182.68 L507.80 182.80 L508.05 182.78 L508.30 182.74 L508.55 182.59 L508.80 182.38 L509.05 182.18 L509.30 181.90 L509.55 181.35 L509.80 180.60 L510.05 180.21 L510.30 179.52 L510.55 178.45 L510.80 177.16 L511.05 175.77 L511.30 174.27 L511.55 172.69 L511.80 171.21 L512.05 169.85 L512.30 168.68 L512.55 169.58 L512.80 170.69 L513.05 171.84 L513.30 173.04 L513.55 174.77 L513.80 176.40 L514.05 178.13 L514.30 179.52 L514.55 180.50 L514.80 181.26 L515.05 181.78 L515.30 182.15 L515.55 182.32 L515.80 182.38 L516.05 182.57 L516.30 182.71 L516.55 182.73 L516.80 182.73 L517.05 182.64 L517.30 182.51 L517.55 182.59 L517.80 182.67 L518.05 182.69 L518.30 182.71 L518.55 182.86 L518.80 182.96 L519.05 182.90 L519.30 182.81 L519.55 182.75 L519.80 182.67 L520.05 182.43 L520.30 182.11 L520.55 182.03 L520.80 181.95 L521.05 182.37 L521.30 182.67 L521.55 182.68 L521.80 182.70 L522.05 182.84 L522.30 182.94 L522.55 182.90 L522.80 182.86 L523.05 182.88 L523.30 182.90 L523.55 182.87 L523.80 182.84 L524.05 182.87 L524.30 182.89 L524.55 182.86 L524.80 182.83 L525.05 182.63 L525.30 182.36 L525.55 182.33 L525.80 182.31 L526.05 182.57 L526.30 182.77 L526.55 182.93 L526.80 183.03 L527.05 183.05 L527.30 183.06 L527.55 183.07 L527.80 183.08 L528.05 183.02 L528.30 182.91 L528.55 182.92 L528.80 182.93 L529.05 182.94 L529.30 182.94 L529.55 183.05 L529.80 183.09 L530.05 183.09 L530.30 183.09 L530.55 183.08 L530.80 183.06 L531.05 183.01 L531.30 182.92 L531.55 182.72 L531.80 182.41 L532.05 182.36 L532.30 182.30 L532.55 182.26 L532.80 182.22 L533.05 182.62 L533.30 182.87 L533.55 182.94 L533.80 183.00 L534.05 182.98 L534.30 182.95 L534.55 182.94 L534.80 182.93 L535.05 182.93 L535.30 182.94 L535.55 183.01 L535.80 183.05 L536.05 183.04 L536.30 183.02 L536.55 182.98 L536.80 182.93 L537.05 183.00 L537.30 183.04 L537.55 183.05 L537.80 183.05 L538.05 183.01 L538.30 182.95 L538.55 182.93 L538.80 182.91 L539.05 182.74 L539.30 182.49 L539.55 182.77 L539.80 182.94 L540.05 182.74 L540.30 182.41 L540.55 182.51 L540.80 182.60 L541.05 182.40 L541.30 182.14 L541.55 182.55 L541.80 182.81 L542.05 182.91 L542.30 182.97 L542.55 182.94 L542.80 182.91 L543.05 182.89 L543.30 182.86 L543.55 182.81 L543.80 182.75 L544.05 182.69 L544.30 182.62 L544.55 182.41 L544.80 182.11 L545.05 182.07 L545.30 182.02 L545.55 181.85 L545.80 181.67 L546.05 181.65 L546.30 181.60 L546.55 181.34 L546.80 181.05 L547.05 181.13 L547.30 181.09 L547.55 180.91 L547.80 180.74 L548.05 180.48 L548.30 180.18 L548.55 179.97 L548.80 179.76 L549.05 179.68 L549.30 179.60 L549.50 179.61 L549.55 179.65 L549.80 179.79 L550.05 179.89 L550.30 179.99 L550.55 180.09 L550.80 180.17 L551.05 180.18 L551.30 180.11 L551.55 180.13 L551.80 180.10 L552.05 180.03 L552.30 179.88 L552.55 179.62 L552.80 179.27 L553.05 178.62 L553.30 177.73 L553.55 176.65 L553.80 175.33 L554.05 175.18 L554.30 174.87 L554.55 174.43 L554.80 173.93 L555.05 173.29 L555.30 172.71 L555.55 172.15 L555.60 172.04 L555.80 172.41 L556.05 172.89 L556.30 173.42 L556.55 174.47 L556.80 175.48 L557.05 176.41 L557.30 177.32 L557.55 178.17 L557.80 178.95 L558.05 179.62 L558.30 180.19 L558.55 180.59 L558.80 180.81 L559.05 181.10 L559.30 181.30 L559.55 181.68 L559.80 181.98 L560.05 182.22 L560.30 182.40 L560.55 182.52 L560.80 182.62 L561.05 182.65 L561.30 182.67 L561.55 182.62 L561.80 182.54 L562.05 182.64 L562.30 182.73 L562.55 182.72 L562.80 182.72 L563.05 182.70 L563.30 182.67 L563.55 182.42 L563.80 182.08 L564.05 182.32 L564.30 182.52 L564.55 182.51 L564.80 182.50 L565.05 182.51 L565.30 182.51 L565.55 182.52 L565.80 182.53 L566.05 182.78 L566.30 182.94 L566.55 183.03 L566.80 183.07 L567.05 183.08 L567.30 183.08 L567.55 183.05 L567.80 182.96 L568.05 182.92 L568.30 182.88 L568.55 182.63 L568.80 182.25 L569.05 182.65 L569.30 182.90 L569.55 182.97 L569.80 183.02 L570.05 183.02 L570.30 183.01 L570.55 182.89 L570.80 182.68 L571.05 182.15 L571.30 181.17 L571.55 180.59 L571.80 179.84 L572.00 179.43 L572.05 179.58 L572.30 180.51 L572.55 181.48 L572.80 182.16 L573.05 182.62 L573.30 182.86 L573.55 182.88 L573.80 182.89 L574.05 182.95 L574.30 183.01 L574.55 183.00 L574.80 182.99 L575.05 182.99 L575.30 182.98 L575.55 182.99 L575.80 183.01 L576.05 182.96 L576.30 182.89 L576.55 182.93 L576.80 182.97 L577.05 182.97 L577.30 182.97 L577.55 183.00 L577.80 183.02 L578.05 182.98 L578.30 182.95 L578.55 182.79 L578.80 182.56 L579.05 182.29 L579.30 181.93 L579.55 181.74 L579.80 181.53 L580.05 181.65 L580.30 181.76 L580.55 182.20 L580.80 182.53 L581.05 182.48 L581.30 182.42 L581.55 182.66 L581.80 182.84 L582.05 182.88 L582.30 182.91 L582.55 182.99 L582.80 183.05 L583.05 183.00 L583.30 182.92 L583.55 182.87 L583.80 182.81 L584.05 182.77 L584.30 182.73 L584.55 182.86 L584.80 182.95 L585.05 182.81 L585.30 182.60 L585.55 182.67 L585.80 182.74 L586.05 182.67 L586.30 182.60 L586.55 182.75 L586.80 182.87 L587.05 182.76 L587.30 182.61 L587.55 182.38 L587.80 182.10 L588.05 182.10 L588.30 182.10 L588.55 182.35 L588.80 182.55 L589.05 182.69 L589.30 182.81 L589.55 182.92 L589.80 182.99 L590.05 183.00 L590.30 183.00 L590.55 182.96 L590.80 182.92 L591.05 182.74 L591.30 182.47 L591.55 182.62 L591.80 182.75 L592.05 182.75 L592.30 182.74 L592.55 182.85 L592.80 182.94 L593.05 182.70 L593.30 182.29 L593.55 182.52 L593.80 182.71 L594.05 182.75 L594.30 182.80 L594.55 182.89 L594.80 182.95 L595.05 182.84 L595.30 182.67 L595.55 182.54 L595.80 182.35 L596.05 182.01 L596.30 181.53 L596.55 181.14 L596.80 180.58 L597.05 179.86 L597.30 179.11 L597.55 178.61 L597.80 178.21 L598.05 178.79 L598.30 179.52 L598.55 180.30 L598.80 181.05 L599.05 181.67 L599.30 182.13 L599.55 182.42 L599.80 182.58 L600.05 182.55 L600.30 182.41 L600.55 182.27 L600.80 182.02 L601.05 181.94 L601.30 181.65 L601.55 181.26 L601.80 180.84 L602.00 180.55 L602.05 180.62 L602.30 181.07 L602.55 181.58 L602.80 182.05 L603.05 182.46 L603.30 182.73 L603.55 182.90 L603.80 182.99 L604.05 183.04 L604.30 183.07 L604.55 183.07 L604.80 183.07 L605.05 183.07 L605.30 183.07 L605.55 183.06 L605.80 183.04 L606.05 182.96 L606.30 182.83 L606.55 182.65 L606.80 182.38 L607.05 182.10 L607.30 181.65 L607.55 181.20 L607.80 180.73 L608.00 180.30 L608.05 180.33 L608.30 180.58 L608.55 181.00 L608.80 181.32 L609.05 181.87 L609.30 182.23 L609.55 182.36 L609.80 182.46 L610.05 182.76 L610.30 182.95 L610.55 182.86 L610.80 182.75 L611.05 182.83 L611.30 182.91 L611.55 182.82 L611.80 182.72 L612.05 182.71 L612.30 182.71 L612.55 182.74 L612.80 182.77 L613.05 182.85 L613.30 182.91 L613.55 182.93 L613.80 182.94 L614.05 182.87 L614.30 182.79 L614.55 182.82 L614.80 182.85 L615.05 183.00 L615.30 183.07 L615.55 183.09 L615.80 183.09 L616.05 183.09 L616.30 183.10 L616.55 183.06 L616.80 182.98 L617.05 183.00 L617.30 183.02 L617.55 182.99 L617.80 182.94 L618.05 183.01 L618.30 183.06 L618.55 183.02 L618.80 182.98 L619.05 182.96 L619.30 182.93 L619.55 182.88 L619.80 182.81 L620.05 182.77 L620.30 182.73 L620.55 182.73 L620.80 182.72 L621.05 182.87 L621.30 182.98 L621.55 182.92 L621.80 182.85 L622.05 182.78 L622.30 182.70 L622.55 182.70 L622.80 182.70 L623.05 182.86 L623.30 182.97 L623.55 182.96 L623.80 182.95 L624.05 182.72 L624.30 182.33 L624.55 182.51 L624.80 182.66 L625.05 182.88 L625.30 183.01 L625.55 183.06 L625.80 183.09 L626.05 183.07 L626.30 183.04 L626.55 182.92 L626.80 182.67 L627.05 182.54 L627.30 182.38 L627.55 182.42 L627.80 182.47 L628.05 182.66 L628.30 182.81 L628.55 182.87 L628.80 182.93 L629.05 182.79 L629.30 182.61 L629.55 182.69 L629.80 182.76 L630.05 182.81 L630.30 182.86 L630.55 183.01 L630.80 183.08 L631.05 183.05 L631.30 183.00 L631.55 183.04 L631.80 183.07 L632.05 182.98 L632.30 182.80 L632.55 182.83 L632.80 182.86 L633.05 182.70 L633.30 182.48 L633.55 182.79 L633.80 182.98 L634.05 183.02 L634.30 183.05 L634.55 183.05 L634.80 183.06 L635.05 182.98 L635.30 182.82 L635.55 182.73 L635.80 182.62 L636.05 182.68 L636.30 182.74 L636.55 182.70 L636.80 182.65 L637.05 182.60 L637.30 182.54 L637.55 182.43 L637.80 182.29 L638.05 182.60 L638.30 182.78 L638.55 182.79 L638.80 182.74 L639.05 182.55 L639.30 182.28 L639.55 182.04 L639.80 181.74 L640.05 181.34 L640.30 180.91 L640.55 180.62 L640.80 180.36 L641.00 180.11 L641.05 180.13 L641.30 180.28 L641.55 180.46 L641.80 180.66 L642.05 180.82 L642.30 180.94 L642.55 180.86 L642.80 180.67 L643.05 180.76 L643.30 180.80 L643.55 181.22 L643.80 181.50 L644.00 181.66 L644.05 181.72 L644.30 181.93 L644.55 182.05 L644.80 182.17 L645.05 182.26 L645.30 182.36 L645.55 182.45 L645.80 182.54 L646.05 182.58 L646.30 182.58 L646.55 182.67 L646.80 182.75 L647.05 182.65 L647.30 182.47 L647.55 182.48 L647.80 182.47 L648.05 182.53 L648.30 182.58 L648.55 182.55 L648.80 182.52 L649.05 182.72 L649.30 182.87 L649.55 182.85 L649.80 182.83 L650.05 182.98 L650.30 183.06 L650.55 183.08 L650.80 183.09 L651.05 183.08 L651.30 183.07 L651.55 183.06 L651.80 183.04 L652.05 182.93 L652.30 182.72 L652.55 182.59 L652.80 182.45 L653.05 182.59 L653.30 182.71 L653.55 182.84 L653.80 182.94 L654.05 183.01 L654.30 183.05 L654.55 183.04 L654.80 183.03 L655.05 183.05 L655.30 183.06 L655.55 183.07 L655.80 183.08 L656.05 183.04 L656.30 182.97 L656.55 182.96 L656.80 182.94 L657.05 182.97 L657.30 182.99 L657.55 183.04 L657.80 183.08 L658.05 183.07 L658.30 183.07 L658.55 183.03 L658.80 182.96 L659.05 182.96 L659.30 182.96 L659.55 182.91 L659.80 182.85 L660.05 182.93 L660.30 182.99 L660.55 182.91 L660.80 182.81 L661.05 182.83 L661.30 182.85 L661.55 182.86 L661.80 182.87 L662.05 182.85 L662.30 182.83 L662.55 182.89 L662.80 182.93 L663.05 182.85 L663.30 182.75 L663.55 182.79 L663.80 182.84 L664.05 182.77 L664.30 182.70 L664.55 182.73 L664.80 182.76 L665.05 182.90 L665.30 183.00 L665.55 182.97 L665.80 182.94 L666.05 182.86 L666.30 182.74 L666.55 182.58 L666.80 182.38 L667.05 182.48 L667.30 182.57 L667.55 182.78 L667.80 182.92 L668.05 182.83 L668.30 182.71 L668.55 182.67 L668.80 182.63 L669.05 182.65 L669.30 182.67 L669.55 182.70 L669.80 182.72 L670.05 182.62 L670.30 182.49 L670.55 182.43 L670.80 182.37 L671.05 182.28 L671.30 182.17 L671.55 182.44 L671.80 182.65 L672.05 182.71 L672.30 182.76 L672.55 182.84 L672.80 182.90 L673.05 182.93 L673.30 182.95 L673.55 182.84 L673.80 182.67 L674.05 182.71 L674.30 182.75 L674.55 182.81 L674.80 182.86 L675.05 182.90 L675.30 182.92 L675.55 182.85 L675.80 182.77 L676.05 182.63 L676.30 182.45 L676.55 182.36 L676.80 182.26 L677.05 182.12 L677.30 181.95 L677.55 181.77 L677.80 181.57 L678.05 181.36 L678.30 181.16 L678.55 181.05 L678.80 180.96 L679.00 180.76 L679.05 180.76 L679.30 180.77 L679.55 181.05 L679.80 181.35 L680.05 181.68 L680.30 181.97 L680.55 182.16 L680.80 182.32 L681.05 182.38 L681.30 182.38 L681.55 182.34 L681.80 182.23 L682.05 182.09 L682.30 181.90 L682.55 181.59 L682.80 181.23 L683.05 180.87 L683.30 180.51 L683.55 180.24 L683.80 179.99 L684.00 179.89 L684.05 179.93 L684.30 180.12 L684.55 180.19 L684.80 180.27 L685.05 180.94 L685.30 181.50 L685.55 181.96 L685.80 182.28 L686.05 182.41 L686.30 182.50 L686.55 182.46 L686.80 182.35 L687.05 182.18 L687.30 181.95 L687.55 181.85 L687.80 181.71 L688.05 181.54 L688.30 181.37 L688.55 181.20 L688.80 181.05 L689.00 180.91 L689.05 180.92 L689.30 181.02 L689.55 181.21 L689.80 181.42 L690.05 181.61 L690.30 181.79 L690.55 182.14 L690.80 182.42 L691.05 182.57 L691.30 182.70 L691.55 182.80 L691.80 182.87 L692.05 182.83 L692.30 182.72 L692.55 182.84 L692.80 182.93 L693.05 182.92 L693.30 182.92 L693.55 183.00 L693.80 183.05 L694.05 183.04 L694.30 183.02 L694.55 183.00 L694.80 182.97 L695.05 182.99 L695.30 183.00 L695.55 183.04 L695.80 183.07 L696.05 183.07 L696.30 183.08 L696.55 183.07 L696.80 183.07 L697.05 183.03 L697.30 182.98 L697.55 183.02 L697.80 183.05 L698.05 183.06 L698.30 183.07 L698.55 183.06 L698.80 183.06 L699.05 182.98 L699.30 182.82 L699.55 182.56 L699.80 182.17 L700.05 182.19 L700.30 182.20 L700.55 182.47 L700.80 182.69 L701.05 182.91 L701.30 183.03 L701.55 183.05 L701.80 183.07 L702.05 183.08 L702.30 183.08 L702.55 183.00 L702.80 182.84 L703.05 182.88 L703.30 182.91 L703.55 182.75 L703.80 182.51 L704.05 182.69 L704.30 182.83 L704.55 182.74 L704.80 182.63 L705.05 182.84 L705.30 182.98 L705.55 182.89 L705.80 182.77 L706.05 182.83 L706.30 182.89 L706.55 182.82 L706.80 182.73 L707.05 182.86 L707.30 182.95 L707.55 182.95 L707.80 182.95 L708.05 183.00 L708.30 183.04 L708.55 182.98 L708.80 182.90 L709.05 182.74 L709.30 182.51 L709.55 182.26 L709.80 181.94 L710.05 182.00 L710.30 182.05 L710.55 182.44 L710.80 182.72 L711.05 182.73 L711.30 182.74 L711.55 182.78 L711.80 182.83 L712.05 182.79 L712.30 182.75 L712.55 182.82 L712.80 182.88 L713.05 182.83 L713.30 182.77 L713.55 182.73 L713.80 182.70 L714.05 182.59 L714.30 182.46 L714.55 182.77 L714.80 182.96 L715.05 182.89 L715.30 182.80 L715.55 182.92 L715.80 183.00 L716.05 182.95 L716.30 182.88 L716.55 182.94 L716.80 182.99 L717.05 182.88 L717.30 182.71 L717.55 182.62 L717.80 182.52 L718.05 182.47 L718.30 182.40 L718.55 182.49 L718.80 182.57 L719.05 182.69 L719.30 182.79 L719.55 182.69 L719.80 182.58 L720.05 182.74 L720.30 182.86 L720.55 182.83 L720.80 182.80 L721.05 182.85 L721.30 182.90 L721.55 182.88 L721.80 182.84 L722.05 182.95 L722.30 183.02 L722.55 183.06 L722.80 183.08 L723.05 183.07 L723.30 183.05 L723.55 183.04 L723.80 183.02 L724.05 182.93 L724.30 182.79 L724.55 182.83 L724.80 182.86 L725.05 182.64 L725.30 182.30 L725.55 182.25 L725.80 182.20 L726.05 182.06 L726.30 181.91 L726.55 182.28 L726.80 182.56 L727.05 182.83 L727.30 182.99 L727.55 183.01 L727.80 183.03 L728.05 182.99 L728.30 182.92 L728.55 182.68 L728.80 182.29 L729.05 182.47 L729.30 182.62 L729.55 182.81 L729.80 182.95" fill="none" stroke="#8b8b94" stroke-width="1.1" stroke-linejoin="round"/>
<path d="M67.80 376.08 L68.05 376.11 L68.30 376.14 L68.55 376.10 L68.80 376.03 L69.05 376.08 L69.30 376.12 L69.55 376.12 L69.80 376.12 L70.05 376.13 L70.30 376.13 L70.55 376.16 L70.80 376.18 L71.05 376.16 L71.30 376.12 L71.55 376.16 L71.80 376.19 L72.05 376.18 L72.30 376.18 L72.55 376.18 L72.80 376.18 L73.05 376.12 L73.30 375.99 L73.55 375.98 L73.80 375.98 L74.05 376.02 L74.30 376.06 L74.55 376.09 L74.80 376.12 L75.05 375.97 L75.30 375.70 L75.55 375.53 L75.80 375.34 L76.05 375.46 L76.30 375.57 L76.55 375.55 L76.80 375.53 L77.05 375.73 L77.30 375.86 L77.55 375.65 L77.80 375.33 L78.05 375.33 L78.30 375.07 L78.55 374.42 L78.80 373.60 L79.05 372.86 L79.30 372.15 L79.50 371.69 L79.55 371.79 L79.80 372.43 L80.05 373.21 L80.30 373.96 L80.55 374.68 L80.80 375.22 L81.05 375.50 L81.30 375.63 L81.55 375.79 L81.80 375.89 L82.05 375.86 L82.30 375.82 L82.55 375.84 L82.80 375.86 L83.05 376.01 L83.30 376.11 L83.55 376.15 L83.80 376.17 L84.05 376.19 L84.30 376.19 L84.55 376.18 L84.80 376.13 L85.05 376.08 L85.30 376.01 L85.55 375.98 L85.80 375.95 L86.05 375.98 L86.30 376.00 L86.55 375.99 L86.80 375.99 L87.05 375.99 L87.30 375.99 L87.55 375.94 L87.80 375.88 L88.05 375.80 L88.30 375.71 L88.55 375.73 L88.80 375.75 L89.05 375.83 L89.30 375.90 L89.55 375.95 L89.80 375.99 L90.05 375.81 L90.30 375.54 L90.55 375.46 L90.80 375.37 L91.05 375.50 L91.30 375.62 L91.55 375.57 L91.80 375.52 L92.05 375.79 L92.30 375.97 L92.55 375.94 L92.80 375.90 L93.05 375.96 L93.30 376.01 L93.55 376.01 L93.80 376.00 L94.05 375.98 L94.30 375.97 L94.55 376.10 L94.80 376.17 L95.05 376.13 L95.30 376.05 L95.55 376.00 L95.80 375.93 L96.05 375.75 L96.30 375.51 L96.55 375.40 L96.80 375.27 L97.05 375.53 L97.30 375.73 L97.55 375.68 L97.80 375.63 L98.05 375.75 L98.30 375.85 L98.55 375.75 L98.80 375.64 L99.05 375.74 L99.30 375.83 L99.55 375.74 L99.80 375.64 L100.05 375.45 L100.30 375.24 L100.55 375.23 L100.80 375.21 L101.05 375.32 L101.30 375.43 L101.55 375.82 L101.80 376.05 L102.05 376.01 L102.30 375.95 L102.55 375.96 L102.80 375.96 L103.05 375.64 L103.30 375.10 L103.55 375.01 L103.80 374.92 L104.05 375.18 L104.30 375.41 L104.55 375.70 L104.80 375.92 L105.05 375.96 L105.30 375.99 L105.55 376.05 L105.80 376.09 L106.05 376.08 L106.30 376.07 L106.55 376.14 L106.80 376.18 L107.05 376.17 L107.30 376.16 L107.55 376.19 L107.80 376.20 L108.05 376.18 L108.30 376.13 L108.55 376.13 L108.80 376.13 L109.05 376.10 L109.30 376.07 L109.55 376.13 L109.80 376.16 L110.05 376.07 L110.30 375.91 L110.55 375.95 L110.80 375.99 L111.05 375.98 L111.30 375.96 L111.55 376.04 L111.80 376.09 L112.05 375.92 L112.30 375.63 L112.55 375.44 L112.80 375.22 L113.05 375.00 L113.30 374.75 L113.55 375.21 L113.80 375.55 L114.05 375.73 L114.30 375.88 L114.55 376.01 L114.80 376.10 L115.05 375.99 L115.30 375.81 L115.55 375.59 L115.80 375.29 L116.05 375.41 L116.30 375.52 L116.55 375.82 L116.80 376.02 L117.05 376.13 L117.30 376.18 L117.55 376.18 L117.80 376.18 L118.05 376.16 L118.30 376.13 L118.55 376.08 L118.80 376.01 L119.05 376.00 L119.30 375.99 L119.55 376.09 L119.80 376.14 L120.05 376.16 L120.30 376.17 L120.55 376.16 L120.80 376.15 L121.05 376.08 L121.30 375.97 L121.55 375.80 L121.80 375.57 L122.05 375.37 L122.30 375.08 L122.55 374.91 L122.80 374.56 L123.05 374.17 L123.30 373.62 L123.55 372.92 L123.80 372.39 L124.05 373.10 L124.30 373.93 L124.55 374.57 L124.80 375.05 L125.05 375.39 L125.30 375.56 L125.55 375.26 L125.80 374.72 L126.05 374.83 L126.30 374.92 L126.55 375.20 L126.80 375.44 L127.05 375.67 L127.30 375.85 L127.55 376.03 L127.80 376.14 L128.05 376.11 L128.30 376.07 L128.55 376.12 L128.80 376.16 L129.05 376.16 L129.30 376.16 L129.55 376.19 L129.80 376.20 L130.05 376.19 L130.30 376.19 L130.55 376.18 L130.80 376.17 L131.05 376.18 L131.30 376.18 L131.55 376.19 L131.80 376.19 L132.05 376.20 L132.30 376.20 L132.55 376.20 L132.80 376.20 L133.05 376.19 L133.30 376.18 L133.55 376.18 L133.80 376.19 L134.05 376.14 L134.30 376.03 L134.55 375.97 L134.80 375.90 L135.05 375.86 L135.30 375.82 L135.55 376.00 L135.80 376.11 L136.05 376.14 L136.30 376.16 L136.55 376.14 L136.80 376.12 L137.05 376.14 L137.30 376.15 L137.55 376.09 L137.80 375.99 L138.05 375.81 L138.30 375.55 L138.55 375.36 L138.80 375.14 L139.05 375.37 L139.30 375.57 L139.55 375.91 L139.80 376.10 L140.05 376.14 L140.30 376.17 L140.55 376.17 L140.80 376.18 L141.05 376.17 L141.30 376.16 L141.55 376.09 L141.80 375.94 L142.05 375.98 L142.30 376.02 L142.55 376.06 L142.80 376.10 L143.05 376.08 L143.30 376.06 L143.55 375.99 L143.80 375.89 L144.05 375.85 L144.30 375.81 L144.55 375.93 L144.80 376.02 L145.05 376.10 L145.30 376.14 L145.55 376.11 L145.80 376.05 L146.05 375.97 L146.30 375.85 L146.55 375.52 L146.80 375.01 L147.05 374.88 L147.30 374.74 L147.55 375.25 L147.80 375.61 L148.05 375.78 L148.30 375.91 L148.55 375.99 L148.80 376.04 L149.05 375.97 L149.30 375.86 L149.55 375.80 L149.80 375.73 L150.05 375.50 L150.30 375.18 L150.55 375.37 L150.80 375.50 L151.05 375.56 L151.30 375.60 L151.55 375.54 L151.80 375.48 L152.05 375.23 L152.30 374.87 L152.55 374.42 L152.80 373.85 L153.05 373.78 L153.30 373.71 L153.55 373.77 L153.80 373.82 L154.05 373.81 L154.30 373.81 L154.55 374.08 L154.80 374.26 L155.05 374.28 L155.30 374.27 L155.55 374.27 L155.80 374.25 L156.05 374.19 L156.30 374.12 L156.55 374.08 L156.80 374.01 L157.05 373.94 L157.30 373.87 L157.55 373.80 L157.80 373.73 L158.00 373.65 L158.05 373.65 L158.30 373.61 L158.55 373.50 L158.80 373.30 L159.05 373.28 L159.30 373.26 L159.55 373.19 L159.80 373.11 L160.05 373.18 L160.30 373.25 L160.55 372.93 L160.80 372.53 L161.05 373.17 L161.30 373.70 L161.55 374.23 L161.80 374.61 L162.05 374.87 L162.30 375.03 L162.55 375.11 L162.80 375.18 L163.05 375.22 L163.30 375.24 L163.55 375.20 L163.80 375.10 L164.05 374.85 L164.30 374.43 L164.55 373.84 L164.80 373.03 L165.05 372.59 L165.30 372.02 L165.55 371.40 L165.80 370.69 L166.05 369.85 L166.30 369.05 L166.55 368.48 L166.80 368.00 L166.90 367.79 L167.05 368.11 L167.30 368.75 L167.55 369.47 L167.80 370.25 L168.05 370.79 L168.30 371.15 L168.55 371.77 L168.80 372.26 L169.05 372.97 L169.30 373.48 L169.55 373.87 L169.80 374.07 L170.05 373.98 L170.30 373.83 L170.55 373.70 L170.80 373.55 L171.05 373.21 L171.30 372.80 L171.50 372.62 L171.55 372.63 L171.80 372.71 L172.05 372.88 L172.30 373.08 L172.55 373.55 L172.80 373.98 L173.05 374.25 L173.30 374.50 L173.55 374.58 L173.80 374.62 L174.05 374.91 L174.30 375.16 L174.55 375.56 L174.80 375.81 L175.05 375.94 L175.30 376.02 L175.55 376.03 L175.80 375.96 L176.05 375.82 L176.30 375.59 L176.55 375.60 L176.80 375.61 L177.05 375.65 L177.30 375.69 L177.55 375.62 L177.80 375.54 L178.05 375.26 L178.30 374.90 L178.55 375.24 L178.80 375.52 L179.05 375.71 L179.30 375.87 L179.55 376.01 L179.80 376.10 L180.05 376.14 L180.30 376.17 L180.55 376.13 L180.80 376.08 L181.05 375.97 L181.30 375.82 L181.55 375.62 L181.80 375.35 L182.05 375.37 L182.30 375.39 L182.55 375.51 L182.80 375.62 L183.05 375.44 L183.30 375.24 L183.55 375.31 L183.80 375.37 L184.05 375.49 L184.30 375.60 L184.55 375.85 L184.80 376.02 L185.05 376.11 L185.30 376.16 L185.55 376.16 L185.80 376.16 L186.05 376.13 L186.30 376.08 L186.55 376.08 L186.80 376.09 L187.05 376.06 L187.30 376.03 L187.55 376.10 L187.80 376.15 L188.05 376.07 L188.30 375.93 L188.55 375.95 L188.80 375.97 L189.05 375.88 L189.30 375.76 L189.55 375.88 L189.80 375.97 L190.05 375.80 L190.30 375.57 L190.55 375.59 L190.80 375.61 L191.05 375.44 L191.30 375.23 L191.55 375.47 L191.80 375.67 L192.05 375.62 L192.30 375.56 L192.55 375.74 L192.80 375.88 L193.05 376.01 L193.30 376.09 L193.55 376.11 L193.80 376.12 L194.05 376.15 L194.30 376.18 L194.55 376.18 L194.80 376.18 L195.05 376.15 L195.30 376.12 L195.55 376.12 L195.80 376.12 L196.05 376.05 L196.30 375.94 L196.55 375.96 L196.80 375.98 L197.05 375.87 L197.30 375.74 L197.55 375.79 L197.80 375.84 L198.05 375.91 L198.30 375.96 L198.55 375.96 L198.80 375.96 L199.05 375.83 L199.30 375.65 L199.55 375.81 L199.80 375.93 L200.05 375.93 L200.30 375.93 L200.55 376.04 L200.80 376.11 L201.05 376.09 L201.30 376.06 L201.55 376.01 L201.80 375.96 L202.05 375.88 L202.30 375.79 L202.55 375.67 L202.80 375.52 L203.05 375.49 L203.30 375.45 L203.55 375.19 L203.80 374.88 L204.05 374.85 L204.30 374.80 L204.55 374.72 L204.80 374.57 L205.05 374.45 L205.30 374.16 L205.55 373.47 L205.80 372.39 L206.05 370.65 L206.30 367.89 L206.55 363.66 L206.80 357.33 L207.05 348.36 L207.30 336.47 L207.55 321.85 L207.80 305.10 L208.05 287.24 L208.30 270.00 L208.55 255.08 L208.80 243.29 L209.05 254.73 L209.30 269.27 L209.55 286.30 L209.80 304.00 L210.05 321.14 L210.30 336.10 L210.55 348.15 L210.80 357.25 L211.05 363.60 L211.30 367.85 L211.55 370.31 L211.80 371.65 L212.05 372.98 L212.30 373.87 L212.55 374.62 L212.80 375.09 L213.05 375.36 L213.30 375.54 L213.55 375.64 L213.80 375.67 L214.05 375.58 L214.30 375.29 L214.55 374.71 L214.80 373.80 L215.05 372.69 L215.30 371.70 L215.40 371.39 L215.55 371.79 L215.80 372.69 L216.05 373.49 L216.30 373.92 L216.55 374.83 L216.80 375.40 L217.05 375.56 L217.30 375.65 L217.55 375.77 L217.80 375.86 L218.05 375.87 L218.30 375.88 L218.55 375.84 L218.80 375.78 L219.05 375.66 L219.30 375.52 L219.55 375.48 L219.80 375.44 L220.05 375.40 L220.30 375.36 L220.55 375.65 L220.80 375.87 L221.05 375.78 L221.30 375.67 L221.55 375.65 L221.80 375.64 L222.05 375.42 L222.30 375.15 L222.55 375.35 L222.80 375.53 L223.05 375.78 L223.30 375.95 L223.55 376.03 L223.80 376.08 L224.05 376.05 L224.30 376.02 L224.55 376.06 L224.80 376.10 L225.05 376.13 L225.30 376.15 L225.55 376.10 L225.80 376.04 L226.05 376.07 L226.30 376.10 L226.55 376.06 L226.80 376.01 L227.05 376.07 L227.30 376.11 L227.55 376.11 L227.80 376.11 L228.05 376.14 L228.30 376.16 L228.55 376.14 L228.80 376.12 L229.05 376.04 L229.30 375.93 L229.55 376.00 L229.80 376.05 L230.05 375.97 L230.30 375.87 L230.55 375.78 L230.80 375.67 L231.05 375.17 L231.30 374.43 L231.55 375.15 L231.80 375.64 L232.05 375.85 L232.30 375.99 L232.55 376.14 L232.80 376.19 L233.05 376.16 L233.30 376.09 L233.55 376.09 L233.80 376.09 L234.05 376.07 L234.30 376.06 L234.55 376.11 L234.80 376.15 L235.05 376.07 L235.30 375.93 L235.55 375.69 L235.80 375.34 L236.05 375.44 L236.30 375.52 L236.55 375.84 L236.80 376.04 L237.05 376.01 L237.30 375.99 L237.55 375.91 L237.80 375.81 L238.05 375.59 L238.30 375.29 L238.55 375.71 L238.80 375.97 L239.05 376.07 L239.30 376.13 L239.55 376.12 L239.80 376.12 L240.05 376.08 L240.30 376.02 L240.55 376.01 L240.80 376.00 L241.05 375.94 L241.30 375.86 L241.55 375.78 L241.80 375.69 L242.05 375.34 L242.30 374.85 L242.55 375.32 L242.80 375.59 L243.05 375.45 L243.30 375.28 L243.55 375.41 L243.80 375.43 L244.05 375.16 L244.30 374.76 L244.55 374.74 L244.80 374.68 L245.05 374.43 L245.30 374.14 L245.55 374.04 L245.80 373.92 L246.05 373.58 L246.30 373.20 L246.55 373.01 L246.80 372.83 L247.00 372.76 L247.05 372.78 L247.30 372.83 L247.55 372.82 L247.80 372.73 L248.05 372.51 L248.30 372.14 L248.55 371.51 L248.80 370.45 L249.05 368.72 L249.30 365.88 L249.55 361.38 L249.80 354.61 L250.05 344.93 L250.30 331.86 L250.55 315.28 L250.80 295.64 L251.05 274.00 L251.30 251.96 L251.55 231.30 L251.80 213.59 L252.00 202.28 L252.05 204.86 L252.30 220.12 L252.55 238.94 L252.80 260.18 L253.05 282.33 L253.30 303.32 L253.55 321.72 L253.80 336.81 L254.05 348.45 L254.30 356.83 L254.55 362.53 L254.80 366.24 L255.05 368.56 L255.30 369.97 L255.55 370.79 L255.80 371.24 L256.00 371.48 L256.05 371.58 L256.30 371.99 L256.55 372.37 L256.80 372.70 L257.05 373.12 L257.30 373.51 L257.55 373.75 L257.80 373.93 L258.05 374.24 L258.30 374.52 L258.55 374.63 L258.80 374.70 L259.05 375.07 L259.30 375.36 L259.55 375.38 L259.80 375.34 L260.05 375.42 L260.30 375.48 L260.55 375.55 L260.80 375.61 L261.05 375.63 L261.30 375.65 L261.55 375.73 L261.80 375.79 L262.05 375.58 L262.30 375.27 L262.55 375.38 L262.80 375.47 L263.05 375.40 L263.30 375.32 L263.55 375.48 L263.80 375.61 L264.05 375.47 L264.30 375.31 L264.55 375.54 L264.80 375.73 L265.05 375.86 L265.30 375.96 L265.55 376.08 L265.80 376.15 L266.05 376.17 L266.30 376.18 L266.55 376.19 L266.80 376.20 L267.05 376.18 L267.30 376.13 L267.55 376.11 L267.80 376.09 L268.05 376.08 L268.30 376.07 L268.55 376.15 L268.80 376.19 L269.05 376.16 L269.30 376.09 L269.55 375.94 L269.80 375.70 L270.05 375.42 L270.30 375.04 L270.55 375.40 L270.80 375.68 L271.05 375.91 L271.30 376.05 L271.55 376.11 L271.80 376.15 L272.05 376.14 L272.30 376.12 L272.55 376.13 L272.80 376.14 L273.05 376.12 L273.30 376.10 L273.55 376.12 L273.80 376.14 L274.05 376.02 L274.30 375.80 L274.55 375.58 L274.80 375.29 L275.05 375.10 L275.30 374.89 L275.55 375.38 L275.80 375.73 L276.05 375.73 L276.30 375.73 L276.55 375.82 L276.80 375.90 L277.05 375.86 L277.30 375.83 L277.55 376.07 L277.80 376.17 L278.05 376.17 L278.30 376.16 L278.55 376.15 L278.80 376.14 L279.05 376.08 L279.30 375.98 L279.55 376.02 L279.80 376.05 L280.05 376.05 L280.30 376.04 L280.55 376.11 L280.80 376.16 L281.05 376.15 L281.30 376.15 L281.55 376.17 L281.80 376.18 L282.05 376.16 L282.30 376.14 L282.55 376.15 L282.80 376.16 L283.05 376.15 L283.30 376.15 L283.55 376.14 L283.80 376.14 L284.05 376.12 L284.30 376.10 L284.55 376.04 L284.80 375.94 L285.05 375.87 L285.30 375.78 L285.55 375.59 L285.80 375.32 L286.05 375.22 L286.30 375.10 L286.55 374.90 L286.80 374.68 L287.05 374.46 L287.30 374.23 L287.55 374.23 L287.80 374.20 L288.05 374.19 L288.30 374.14 L288.55 373.90 L288.80 373.66 L289.05 373.54 L289.30 373.40 L289.55 373.08 L289.80 372.72 L290.00 372.66 L290.05 372.69 L290.30 372.78 L290.55 372.77 L290.80 372.72 L291.05 372.56 L291.30 372.29 L291.55 371.80 L291.80 370.98 L292.05 369.48 L292.30 367.08 L292.55 363.88 L292.80 358.91 L293.05 351.61 L293.30 341.47 L293.55 328.49 L293.80 312.55 L294.05 294.30 L294.30 275.09 L294.55 256.50 L294.80 240.02 L295.05 226.47 L295.10 224.16 L295.30 233.76 L295.55 248.90 L295.80 266.63 L296.05 285.55 L296.30 304.09 L296.55 321.30 L296.80 335.81 L297.05 347.05 L297.30 355.33 L297.55 361.23 L297.80 365.15 L298.05 367.50 L298.30 368.91 L298.55 370.17 L298.80 370.97 L299.00 371.39 L299.05 371.53 L299.30 372.11 L299.55 372.57 L299.80 372.96 L300.05 373.31 L300.30 373.64 L300.55 373.96 L300.80 374.25 L301.05 374.48 L301.30 374.62 L301.55 374.80 L301.80 374.95 L302.05 374.95 L302.30 374.86 L302.55 375.09 L302.80 375.29 L303.05 375.32 L303.30 375.33 L303.55 375.45 L303.80 375.55 L304.05 375.80 L304.30 375.96 L304.55 375.96 L304.80 375.95 L305.05 375.90 L305.30 375.84 L305.55 375.66 L305.80 375.43 L306.05 375.57 L306.30 375.69 L306.55 375.73 L306.80 375.76 L307.05 375.91 L307.30 376.02 L307.55 375.97 L307.80 375.92 L308.05 376.02 L308.30 376.09 L308.55 376.09 L308.80 376.09 L309.05 376.15 L309.30 376.18 L309.55 376.15 L309.80 376.09 L310.05 376.07 L310.30 376.05 L310.55 375.94 L310.80 375.80 L311.05 375.70 L311.30 375.59 L311.55 375.45 L311.80 375.28 L312.05 375.48 L312.30 375.66 L312.55 375.85 L312.80 375.99 L313.05 375.94 L313.30 375.88 L313.55 375.75 L313.80 375.58 L314.05 375.52 L314.30 375.44 L314.55 375.47 L314.80 375.49 L315.05 375.79 L315.30 376.00 L315.55 376.09 L315.80 376.14 L316.05 376.17 L316.30 376.19 L316.55 376.15 L316.80 376.07 L317.05 376.04 L317.30 376.01 L317.55 375.93 L317.80 375.84 L318.05 376.03 L318.30 376.14 L318.55 376.16 L318.80 376.18 L319.05 376.19 L319.30 376.20 L319.55 376.17 L319.80 376.11 L320.05 376.00 L320.30 375.83 L320.55 375.67 L320.80 375.47 L321.05 375.66 L321.30 375.81 L321.55 375.87 L321.80 375.92 L322.05 375.98 L322.30 376.02 L322.55 375.98 L322.80 375.94 L323.05 376.03 L323.30 376.10 L323.55 376.03 L323.80 375.92 L324.05 375.99 L324.30 376.05 L324.55 375.82 L324.80 375.44 L325.05 375.42 L325.30 375.39 L325.55 375.49 L325.80 375.58 L326.05 375.80 L326.30 375.96 L326.55 375.99 L326.80 376.01 L327.05 375.72 L327.30 375.23 L327.55 375.23 L327.80 375.24 L328.05 375.55 L328.30 375.79 L328.55 376.01 L328.80 376.13 L329.05 376.06 L329.30 375.95 L329.55 375.96 L329.80 375.98 L330.05 375.87 L330.30 375.74 L330.55 375.98 L330.80 376.11 L331.05 376.07 L331.30 376.00 L331.55 375.91 L331.80 375.79 L332.05 375.78 L332.30 375.76 L332.55 375.63 L332.80 375.47 L333.05 375.62 L333.30 375.71 L333.55 375.38 L333.80 374.90 L334.05 374.87 L334.30 374.79 L334.55 374.73 L334.80 374.56 L335.05 374.08 L335.30 373.31 L335.55 372.12 L335.80 370.12 L336.05 366.92 L336.30 362.09 L336.55 355.43 L336.80 346.61 L337.05 335.96 L337.30 324.29 L337.55 312.66 L337.80 302.23 L338.05 293.87 L338.10 292.48 L338.30 298.53 L338.55 308.22 L338.80 319.52 L339.05 331.32 L339.30 342.50 L339.55 352.15 L339.80 359.80 L340.05 365.35 L340.30 369.05 L340.55 371.65 L340.80 373.27 L341.05 374.12 L341.30 374.57 L341.55 374.93 L341.80 375.16 L342.05 375.29 L342.30 375.37 L342.55 375.39 L342.80 375.38 L343.05 375.49 L343.30 375.59 L343.55 375.23 L343.80 374.71 L344.05 375.19 L344.30 375.55 L344.55 375.71 L344.80 375.84 L345.05 375.98 L345.30 376.08 L345.55 375.94 L345.80 375.72 L346.05 375.63 L346.30 375.53 L346.55 375.55 L346.80 375.56 L347.05 375.80 L347.30 375.97 L347.55 376.04 L347.80 376.10 L348.05 376.13 L348.30 376.16 L348.55 376.18 L348.80 376.19 L349.05 376.17 L349.30 376.12 L349.55 376.08 L349.80 376.04 L350.05 375.82 L350.30 375.46 L350.55 375.73 L350.80 375.93 L351.05 375.93 L351.30 375.94 L351.55 376.04 L351.80 376.11 L352.05 376.12 L352.30 376.12 L352.55 376.11 L352.80 376.09 L353.05 376.01 L353.30 375.90 L353.55 375.64 L353.80 375.27 L354.05 374.97 L354.30 374.60 L354.55 374.88 L354.80 375.12 L355.05 375.10 L355.30 375.08 L355.55 374.99 L355.80 374.89 L356.05 374.95 L356.30 375.01 L356.55 375.15 L356.80 375.28 L357.05 375.73 L357.30 376.00 L357.55 375.96 L357.80 375.91 L358.05 375.98 L358.30 376.04 L358.55 375.86 L358.80 375.58 L359.05 375.62 L359.30 375.66 L359.55 375.73 L359.80 375.79 L360.05 376.00 L360.30 376.12 L360.55 376.08 L360.80 376.03 L361.05 376.06 L361.30 376.09 L361.55 376.01 L361.80 375.90 L362.05 376.04 L362.30 376.13 L362.55 376.11 L362.80 376.08 L363.05 376.03 L363.30 375.97 L363.55 375.78 L363.80 375.50 L364.05 375.52 L364.30 375.54 L364.55 375.58 L364.80 375.62 L365.05 375.88 L365.30 376.05 L365.55 375.98 L365.80 375.90 L366.05 375.97 L366.30 376.03 L366.55 376.06 L366.80 376.08 L367.05 376.13 L367.30 376.17 L367.55 376.18 L367.80 376.19 L368.05 376.14 L368.30 376.02 L368.55 375.94 L368.80 375.84 L369.05 375.84 L369.30 375.83 L369.55 375.83 L369.80 375.83 L370.05 375.64 L370.30 375.38 L370.55 375.24 L370.80 375.08 L371.05 375.54 L371.30 375.86 L371.55 376.05 L371.80 376.15 L372.05 376.18 L372.30 376.19 L372.55 376.18 L372.80 376.17 L373.05 376.17 L373.30 376.17 L373.55 376.16 L373.80 376.15 L374.05 376.15 L374.30 376.15 L374.55 376.11 L374.80 376.05 L375.05 375.91 L375.30 375.69 L375.55 375.46 L375.80 375.17 L376.05 375.23 L376.30 375.29 L376.55 375.47 L376.80 375.60 L377.05 375.59 L377.30 375.56 L377.55 375.44 L377.80 375.26 L378.05 374.99 L378.30 374.57 L378.55 374.00 L378.80 373.09 L379.05 371.71 L379.30 369.80 L379.55 367.19 L379.80 363.87 L380.05 360.02 L380.30 355.67 L380.55 351.01 L380.80 346.39 L381.05 342.29 L381.30 338.77 L381.50 336.28 L381.55 336.76 L381.80 339.56 L382.05 343.51 L382.30 347.94 L382.55 352.57 L382.80 357.06 L383.05 361.15 L383.30 364.58 L383.55 367.20 L383.80 369.08 L384.05 370.31 L384.30 371.00 L384.55 371.16 L384.80 370.97 L385.05 370.67 L385.30 370.25 L385.50 369.89 L385.55 369.91 L385.80 370.01 L386.05 371.23 L386.30 372.24 L386.55 373.04 L386.80 373.72 L387.05 374.24 L387.30 374.70 L387.55 374.96 L387.80 375.02 L388.05 375.08 L388.30 375.02 L388.55 375.21 L388.80 375.35 L389.05 375.75 L389.30 375.98 L389.55 376.02 L389.80 376.05 L390.05 376.02 L390.30 375.96 L390.55 375.72 L390.80 375.33 L391.05 375.03 L391.30 374.66 L391.55 374.63 L391.80 374.59 L392.05 375.06 L392.30 375.43 L392.55 375.77 L392.80 375.99 L393.05 376.13 L393.30 376.18 L393.55 376.17 L393.80 376.16 L394.05 376.09 L394.30 375.98 L394.55 375.74 L394.80 375.35 L395.05 375.23 L395.30 375.10 L395.55 375.12 L395.80 375.14 L396.05 375.26 L396.30 375.37 L396.55 375.51 L396.80 375.64 L397.05 375.68 L397.30 375.72 L397.55 375.96 L397.80 376.10 L398.05 376.05 L398.30 375.98 L398.55 376.05 L398.80 376.10 L399.05 375.91 L399.30 375.58 L399.55 375.64 L399.80 375.70 L400.05 375.67 L400.30 375.64 L400.55 375.93 L400.80 376.09 L401.05 376.14 L401.30 376.17 L401.55 376.15 L401.80 376.11 L402.05 376.01 L402.30 375.86 L402.55 375.90 L402.80 375.94 L403.05 376.07 L403.30 376.14 L403.55 376.16 L403.80 376.17 L404.05 376.13 L404.30 376.06 L404.55 376.00 L404.80 375.91 L405.05 375.99 L405.30 376.05 L405.55 376.05 L405.80 376.05 L406.05 376.11 L406.30 376.15 L406.55 376.14 L406.80 376.13 L407.05 376.15 L407.30 376.16 L407.55 376.03 L407.80 375.76 L408.05 375.62 L408.30 375.45 L408.55 375.19 L408.80 374.88 L409.05 375.23 L409.30 375.51 L409.55 375.70 L409.80 375.85 L410.05 376.02 L410.30 376.12 L410.55 376.05 L410.80 375.94 L411.05 375.80 L411.30 375.60 L411.55 375.57 L411.80 375.54 L412.05 375.91 L412.30 376.11 L412.55 376.13 L412.80 376.15 L413.05 376.11 L413.30 376.05 L413.55 375.97 L413.80 375.85 L414.05 375.93 L414.30 375.99 L414.55 375.99 L414.80 375.99 L415.05 375.85 L415.30 375.65 L415.55 375.67 L415.80 375.68 L416.05 375.90 L416.30 376.05 L416.55 376.13 L416.80 376.17 L417.05 376.15 L417.30 376.14 L417.55 376.06 L417.80 375.91 L418.05 375.94 L418.30 375.97 L418.55 375.86 L418.80 375.73 L419.05 375.70 L419.30 375.66 L419.55 375.51 L419.80 375.33 L420.05 375.56 L420.30 375.71 L420.55 375.58 L420.80 375.41 L421.05 375.34 L421.30 375.20 L421.55 374.68 L421.80 373.95 L422.05 373.67 L422.30 373.03 L422.55 371.90 L422.80 370.44 L423.05 368.65 L423.30 366.57 L423.55 364.28 L423.80 361.90 L424.05 359.40 L424.30 357.00 L424.55 355.34 L424.70 354.50 L424.80 355.07 L425.05 356.67 L425.30 358.57 L425.55 360.85 L425.80 363.12 L426.05 365.22 L426.30 367.12 L426.55 368.67 L426.80 369.87 L427.05 370.63 L427.30 371.00 L427.55 371.59 L427.80 371.99 L428.00 372.21 L428.05 372.32 L428.30 372.78 L428.55 373.28 L428.80 373.68 L429.05 373.89 L429.30 373.99 L429.55 374.34 L429.80 374.67 L430.05 374.95 L430.30 375.19 L430.55 375.48 L430.80 375.66 L431.05 375.78 L431.30 375.87 L431.55 375.89 L431.80 375.81 L432.05 375.59 L432.30 375.21 L432.55 375.01 L432.80 374.77 L433.05 374.71 L433.30 374.63 L433.55 374.60 L433.80 374.56 L434.05 374.90 L434.30 375.19 L434.55 375.64 L434.80 375.93 L435.05 375.93 L435.30 375.93 L435.55 375.80 L435.80 375.64 L436.05 375.70 L436.30 375.76 L436.55 375.86 L436.80 375.94 L437.05 376.03 L437.30 376.09 L437.55 376.03 L437.80 375.95 L438.05 376.03 L438.30 376.09 L438.55 376.12 L438.80 376.14 L439.05 376.17 L439.30 376.19 L439.55 376.19 L439.80 376.19 L440.05 376.19 L440.30 376.18 L440.55 376.08 L440.80 375.86 L441.05 375.91 L441.30 375.95 L441.55 375.75 L441.80 375.47 L442.05 375.80 L442.30 376.01 L442.55 375.96 L442.80 375.89 L443.05 375.94 L443.30 375.97 L443.55 375.78 L443.80 375.52 L444.05 375.48 L444.30 375.43 L444.55 375.79 L444.80 376.01 L445.05 376.08 L445.30 376.13 L445.55 376.13 L445.80 376.14 L446.05 376.00 L446.30 375.73 L446.55 375.83 L446.80 375.92 L447.05 375.92 L447.30 375.92 L447.55 375.93 L447.80 375.94 L448.05 375.98 L448.30 376.02 L448.55 376.01 L448.80 376.00 L449.05 376.01 L449.30 376.03 L449.55 375.84 L449.80 375.53 L450.05 375.70 L450.30 375.84 L450.55 376.04 L450.80 376.15 L451.05 376.19 L451.30 376.20 L451.55 376.18 L451.80 376.11 L452.05 376.08 L452.30 376.04 L452.55 375.86 L452.80 375.59 L453.05 375.60 L453.30 375.61 L453.55 375.57 L453.80 375.53 L454.05 375.74 L454.30 375.90 L454.55 375.89 L454.80 375.87 L455.05 375.77 L455.30 375.66 L455.55 375.66 L455.80 375.67 L456.05 375.76 L456.30 375.85 L456.55 375.94 L456.80 376.01 L457.05 376.00 L457.30 376.00 L457.55 376.12 L457.80 376.17 L458.05 376.14 L458.30 376.09 L458.55 375.97 L458.80 375.77 L459.05 375.49 L459.30 375.11 L459.55 374.97 L459.80 374.81 L460.05 375.39 L460.30 375.75 L460.55 375.83 L460.80 375.87 L461.05 375.88 L461.30 375.82 L461.55 375.58 L461.80 375.15 L462.05 374.61 L462.30 373.87 L462.55 373.61 L462.80 373.30 L463.05 373.33 L463.30 373.22 L463.55 372.99 L463.80 372.75 L464.00 372.48 L464.05 372.50 L464.30 372.59 L464.55 372.54 L464.80 372.35 L465.05 372.41 L465.30 372.29 L465.55 371.72 L465.80 370.80 L466.05 369.71 L466.30 368.17 L466.55 365.80 L466.80 362.89 L467.05 360.03 L467.30 356.94 L467.55 353.83 L467.80 350.83 L468.05 348.28 L468.30 346.08 L468.50 344.60 L468.55 345.00 L468.80 347.27 L469.05 349.92 L469.30 352.92 L469.55 356.04 L469.80 359.15 L470.05 362.31 L470.30 365.20 L470.55 367.70 L470.80 369.78 L471.05 371.44 L471.30 372.72 L471.55 373.65 L471.80 374.31 L472.05 374.82 L472.30 375.18 L472.55 375.48 L472.80 375.67 L473.05 375.78 L473.30 375.85 L473.55 375.90 L473.80 375.92 L474.05 375.80 L474.30 375.51 L474.55 375.37 L474.80 375.20 L475.05 374.75 L475.30 374.15 L475.55 374.81 L475.80 375.32 L476.05 375.71 L476.30 375.96 L476.55 376.11 L476.80 376.17 L477.05 376.17 L477.30 376.16 L477.55 376.10 L477.80 376.00 L478.05 375.91 L478.30 375.80 L478.55 375.89 L478.80 375.96 L479.05 376.03 L479.30 376.08 L479.55 376.05 L479.80 376.02 L480.05 375.91 L480.30 375.77 L480.55 375.63 L480.80 375.47 L481.05 375.34 L481.30 375.20 L481.55 375.21 L481.80 375.21 L482.05 375.57 L482.30 375.83 L482.55 375.83 L482.80 375.83 L483.05 375.94 L483.30 376.03 L483.55 375.92 L483.80 375.78 L484.05 375.93 L484.30 376.04 L484.55 375.94 L484.80 375.80 L485.05 375.91 L485.30 376.01 L485.55 376.03 L485.80 376.06 L486.05 376.13 L486.30 376.17 L486.55 376.17 L486.80 376.18 L487.05 376.12 L487.30 376.02 L487.55 375.94 L487.80 375.84 L488.05 375.78 L488.30 375.71 L488.55 375.88 L488.80 376.01 L489.05 375.91 L489.30 375.77 L489.55 375.70 L489.80 375.62 L490.05 375.69 L490.30 375.76 L490.55 375.82 L490.80 375.88 L491.05 375.84 L491.30 375.78 L491.55 375.44 L491.80 374.94 L492.05 375.41 L492.30 375.74 L492.55 375.81 L492.80 375.87 L493.05 375.92 L493.30 375.97 L493.55 375.73 L493.80 375.37 L494.05 375.08 L494.30 374.74 L494.55 375.31 L494.80 375.70 L495.05 375.90 L495.30 376.03 L495.55 376.15 L495.80 376.19 L496.05 376.19 L496.30 376.18 L496.55 376.13 L496.80 376.02 L497.05 375.90 L497.30 375.74 L497.55 375.38 L497.80 374.88 L498.05 375.29 L498.30 375.59 L498.55 375.39 L498.80 375.02 L499.05 374.64 L499.30 373.65 L499.55 372.50 L499.60 372.34 L499.80 373.14 L500.05 374.25 L500.30 374.50 L500.55 373.32 L500.80 371.66 L500.90 371.26 L501.05 372.03 L501.30 373.69 L501.55 374.99 L501.80 375.58 L502.05 375.84 L502.30 375.96 L502.55 375.95 L502.80 375.93 L503.05 375.98 L503.30 376.03 L503.55 376.10 L503.80 376.14 L504.05 376.13 L504.30 376.13 L504.55 376.12 L504.80 376.12 L505.05 376.07 L505.30 376.00 L505.55 375.90 L505.80 375.76 L506.05 375.75 L506.30 375.72 L506.55 375.79 L506.80 375.80 L507.05 375.72 L507.30 375.59 L507.55 375.34 L507.80 374.96 L508.05 374.45 L508.30 373.71 L508.55 372.71 L508.80 371.34 L509.05 369.60 L509.30 367.39 L509.55 364.64 L509.80 361.48 L510.05 358.16 L510.30 354.81 L510.55 351.76 L510.80 349.07 L511.05 346.98 L511.10 346.62 L511.30 348.33 L511.55 350.87 L511.80 353.84 L512.05 357.04 L512.30 360.28 L512.55 363.34 L512.80 366.05 L513.05 368.58 L513.30 370.63 L513.55 372.24 L513.80 373.43 L514.05 374.24 L514.30 374.80 L514.55 375.15 L514.80 375.35 L515.05 375.50 L515.30 375.59 L515.55 375.75 L515.80 375.88 L516.05 375.83 L516.30 375.73 L516.55 375.75 L516.80 375.76 L517.05 375.69 L517.30 375.60 L517.55 375.83 L517.80 375.99 L518.05 375.98 L518.30 375.96 L518.55 375.89 L518.80 375.80 L519.05 375.54 L519.30 375.18 L519.55 375.21 L519.80 375.25 L520.05 375.61 L520.30 375.87 L520.55 375.95 L520.80 376.01 L521.05 376.05 L521.30 376.07 L521.55 376.10 L521.80 376.13 L522.05 376.11 L522.30 376.08 L522.55 376.04 L522.80 376.00 L523.05 375.75 L523.30 375.35 L523.55 375.61 L523.80 375.82 L524.05 375.63 L524.30 375.40 L524.55 375.59 L524.80 375.74 L525.05 375.83 L525.30 375.91 L525.55 376.09 L525.80 376.18 L526.05 376.17 L526.30 376.17 L526.55 376.12 L526.80 376.05 L527.05 375.81 L527.30 375.41 L527.55 375.64 L527.80 375.82 L528.05 375.83 L528.30 375.84 L528.55 375.99 L528.80 376.09 L529.05 376.02 L529.30 375.91 L529.55 376.03 L529.80 376.11 L530.05 376.12 L530.30 376.13 L530.55 376.13 L530.80 376.13 L531.05 375.99 L531.30 375.76 L531.55 375.82 L531.80 375.88 L532.05 375.89 L532.30 375.90 L532.55 375.93 L532.80 375.96 L533.05 375.67 L533.30 375.21 L533.55 375.39 L533.80 375.55 L534.05 375.83 L534.30 376.02 L534.55 376.02 L534.80 376.03 L535.05 375.81 L535.30 375.47 L535.55 375.26 L535.80 375.01 L536.05 375.56 L536.30 375.90 L536.55 375.92 L536.80 375.93 L537.05 375.96 L537.30 375.98 L537.55 375.70 L537.80 375.26 L538.05 375.44 L538.30 375.60 L538.55 375.37 L538.80 375.09 L539.05 375.53 L539.30 375.84 L539.55 375.78 L539.80 375.72 L540.05 375.92 L540.30 376.06 L540.55 376.01 L540.80 375.95 L541.05 375.93 L541.30 375.91 L541.55 375.71 L541.80 375.41 L542.05 375.53 L542.30 375.63 L542.55 375.86 L542.80 376.02 L543.05 376.08 L543.30 376.12 L543.55 376.08 L543.80 376.03 L544.05 375.99 L544.30 375.95 L544.55 375.99 L544.80 376.02 L545.05 376.04 L545.30 376.04 L545.55 375.98 L545.80 375.90 L546.05 375.69 L546.30 375.35 L546.55 375.37 L546.80 375.36 L547.05 375.32 L547.30 375.25 L547.55 375.14 L547.80 375.02 L548.05 374.83 L548.30 374.63 L548.55 374.33 L548.80 374.01 L549.05 373.93 L549.30 373.78 L549.55 373.42 L549.80 373.01 L550.05 372.83 L550.30 372.64 L550.55 372.26 L550.80 371.83 L551.00 371.71 L551.05 371.73 L551.30 371.79 L551.55 371.73 L551.80 371.54 L552.05 371.13 L552.30 370.43 L552.55 369.27 L552.80 367.61 L553.05 365.31 L553.30 362.39 L553.55 359.07 L553.80 355.38 L554.05 351.55 L554.30 347.89 L554.55 344.85 L554.80 342.34 L555.05 344.78 L555.30 347.82 L555.55 351.34 L555.80 355.04 L556.05 358.63 L556.30 361.86 L556.55 364.59 L556.80 366.73 L557.05 368.25 L557.30 369.25 L557.55 369.88 L557.80 370.20 L558.00 370.63 L558.05 370.77 L558.30 371.40 L558.55 371.84 L558.80 372.24 L559.05 372.61 L559.30 372.97 L559.55 373.29 L559.80 373.60 L560.05 373.91 L560.30 374.20 L560.55 374.47 L560.80 374.72 L561.05 374.92 L561.30 375.09 L561.55 375.26 L561.80 375.40 L562.05 375.54 L562.30 375.65 L562.55 375.71 L562.80 375.75 L563.05 375.88 L563.30 375.96 L563.55 375.92 L563.80 375.81 L564.05 375.79 L564.30 375.76 L564.55 375.62 L564.80 375.43 L565.05 375.74 L565.30 375.95 L565.55 376.01 L565.80 376.06 L566.05 376.08 L566.30 376.10 L566.55 375.95 L566.80 375.65 L567.05 375.80 L567.30 375.91 L567.55 375.76 L567.80 375.56 L568.05 375.54 L568.30 375.52 L568.55 375.17 L568.80 374.71 L569.05 374.75 L569.30 374.79 L569.55 375.35 L569.80 375.74 L570.05 375.64 L570.30 375.52 L570.55 375.67 L570.80 375.80 L571.05 375.46 L571.30 374.97 L571.55 375.02 L571.80 375.07 L572.05 375.29 L572.30 375.47 L572.55 375.56 L572.80 375.64 L573.05 375.63 L573.30 375.63 L573.55 375.67 L573.80 375.71 L574.05 375.87 L574.30 375.99 L574.55 376.03 L574.80 376.06 L575.05 376.04 L575.30 376.03 L575.55 375.89 L575.80 375.69 L576.05 375.87 L576.30 376.00 L576.55 375.81 L576.80 375.53 L577.05 375.84 L577.30 376.04 L577.55 375.99 L577.80 375.93 L578.05 375.90 L578.30 375.87 L578.55 375.85 L578.80 375.83 L579.05 375.90 L579.30 375.97 L579.55 376.06 L579.80 376.12 L580.05 376.11 L580.30 376.09 L580.55 376.12 L580.80 376.15 L581.05 376.17 L581.30 376.19 L581.55 376.19 L581.80 376.20 L582.05 376.15 L582.30 376.02 L582.55 375.89 L582.80 375.72 L583.05 375.36 L583.30 374.84 L583.55 375.38 L583.80 375.75 L584.05 375.70 L584.30 375.66 L584.55 375.93 L584.80 376.10 L585.05 376.03 L585.30 375.95 L585.55 375.99 L585.80 376.02 L586.05 375.96 L586.30 375.90 L586.55 375.78 L586.80 375.64 L587.05 375.68 L587.30 375.71 L587.55 375.61 L587.80 375.51 L588.05 375.50 L588.30 375.50 L588.55 375.71 L588.80 375.87 L589.05 375.72 L589.30 375.54 L589.55 375.65 L589.80 375.76 L590.05 375.64 L590.30 375.50 L590.55 375.59 L590.80 375.68 L591.05 375.82 L591.30 375.93 L591.55 375.73 L591.80 375.45 L592.05 375.56 L592.30 375.65 L592.55 375.60 L592.80 375.55 L593.05 375.64 L593.30 375.71 L593.55 375.74 L593.80 375.75 L594.05 375.76 L594.30 375.73 L594.55 375.61 L594.80 375.40 L595.05 375.12 L595.30 374.57 L595.55 373.54 L595.80 372.03 L596.05 370.44 L596.30 368.50 L596.55 366.18 L596.80 363.84 L597.05 361.78 L597.10 361.39 L597.30 361.70 L597.55 362.03 L597.80 362.21 L598.05 362.30 L598.30 362.06 L598.55 361.98 L598.80 361.75 L598.90 361.64 L599.05 362.88 L599.30 365.03 L599.55 367.28 L599.80 369.46 L600.05 371.40 L600.30 372.97 L600.55 374.13 L600.80 374.88 L601.05 375.34 L601.30 375.57 L601.55 375.67 L601.80 375.67 L602.05 375.63 L602.30 375.56 L602.55 375.71 L602.80 375.83 L603.05 375.92 L603.30 376.00 L603.55 376.05 L603.80 376.09 L604.05 376.11 L604.30 376.13 L604.55 376.15 L604.80 376.17 L605.05 376.18 L605.30 376.19 L605.55 376.19 L605.80 376.19 L606.05 376.18 L606.30 376.15 L606.55 376.16 L606.80 376.17 L607.05 376.13 L607.30 376.06 L607.55 376.02 L607.80 375.97 L608.05 375.97 L608.30 375.98 L608.55 375.97 L608.80 375.96 L609.05 375.98 L609.30 376.01 L609.55 376.03 L609.80 376.04 L610.05 375.97 L610.30 375.88 L610.55 375.95 L610.80 376.01 L611.05 376.00 L611.30 376.00 L611.55 376.14 L611.80 376.19 L612.05 376.17 L612.30 376.14 L612.55 376.04 L612.80 375.85 L613.05 375.57 L613.30 375.17 L613.55 375.32 L613.80 375.46 L614.05 375.74 L614.30 375.94 L614.55 376.10 L614.80 376.17 L615.05 376.16 L615.30 376.13 L615.55 376.10 L615.80 376.05 L616.05 375.97 L616.30 375.88 L616.55 375.88 L616.80 375.88 L617.05 375.91 L617.30 375.94 L617.55 375.75 L617.80 375.49 L618.05 375.44 L618.30 375.39 L618.55 375.50 L618.80 375.60 L619.05 375.61 L619.30 375.63 L619.55 375.89 L619.80 376.05 L620.05 376.00 L620.30 375.92 L620.55 376.04 L620.80 376.12 L621.05 376.09 L621.30 376.06 L621.55 376.13 L621.80 376.17 L622.05 376.14 L622.30 376.09 L622.55 376.12 L622.80 376.15 L623.05 376.09 L623.30 375.99 L623.55 375.95 L623.80 375.91 L624.05 375.87 L624.30 375.83 L624.55 375.93 L624.80 376.02 L625.05 376.08 L625.30 376.13 L625.55 376.08 L625.80 376.01 L626.05 375.89 L626.30 375.74 L626.55 375.65 L626.80 375.55 L627.05 375.70 L627.30 375.83 L627.55 375.93 L627.80 376.01 L628.05 376.10 L628.30 376.16 L628.55 376.17 L628.80 376.18 L629.05 376.13 L629.30 376.04 L629.55 375.92 L629.80 375.76 L630.05 375.46 L630.30 375.04 L630.55 375.57 L630.80 375.91 L631.05 375.89 L631.30 375.87 L631.55 375.86 L631.80 375.85 L632.05 375.68 L632.30 375.46 L632.55 375.51 L632.80 375.56 L633.05 375.70 L633.30 375.81 L633.55 375.89 L633.80 375.95 L634.05 376.08 L634.30 376.16 L634.55 376.17 L634.80 376.18 L635.05 376.18 L635.30 376.19 L635.55 376.18 L635.80 376.16 L636.05 376.12 L636.30 376.05 L636.55 375.89 L636.80 375.66 L637.05 375.39 L637.30 375.05 L637.55 375.00 L637.80 374.90 L638.05 374.93 L638.30 374.74 L638.55 374.24 L638.80 373.44 L639.05 372.34 L639.30 371.04 L639.55 369.51 L639.80 368.04 L640.00 367.13 L640.05 367.21 L640.30 367.49 L640.55 367.11 L640.80 365.35 L641.05 362.15 L641.30 358.59 L641.50 356.34 L641.55 357.03 L641.80 361.33 L642.05 366.46 L642.30 370.73 L642.55 373.27 L642.80 374.43 L643.05 375.38 L643.30 375.82 L643.55 375.92 L643.80 375.97 L644.05 376.08 L644.30 376.14 L644.55 376.11 L644.80 376.02 L645.05 375.85 L645.30 375.58 L645.55 375.31 L645.80 374.96 L646.05 375.25 L646.30 375.50 L646.55 375.53 L646.80 375.56 L647.05 375.75 L647.30 375.89 L647.55 375.92 L647.80 375.94 L648.05 375.93 L648.30 375.93 L648.55 375.83 L648.80 375.72 L649.05 375.51 L649.30 375.25 L649.55 375.40 L649.80 375.53 L650.05 375.33 L650.30 375.11 L650.55 375.26 L650.80 375.39 L651.05 375.29 L651.30 375.17 L651.55 375.35 L651.80 375.51 L652.05 375.29 L652.30 375.02 L652.55 375.30 L652.80 375.52 L653.05 375.51 L653.30 375.50 L653.55 375.64 L653.80 375.76 L654.05 375.80 L654.30 375.85 L654.55 375.99 L654.80 376.09 L655.05 376.08 L655.30 376.07 L655.55 376.11 L655.80 376.14 L656.05 376.03 L656.30 375.84 L656.55 375.98 L656.80 376.08 L657.05 376.08 L657.30 376.09 L657.55 376.17 L657.80 376.20 L658.05 376.17 L658.30 376.10 L658.55 376.04 L658.80 375.97 L659.05 375.97 L659.30 375.96 L659.55 376.12 L659.80 376.19 L660.05 376.20 L660.30 376.20 L660.55 376.19 L660.80 376.16 L661.05 376.10 L661.30 375.98 L661.55 375.78 L661.80 375.49 L662.05 375.47 L662.30 375.44 L662.55 375.71 L662.80 375.91 L663.05 375.94 L663.30 375.97 L663.55 376.05 L663.80 376.11 L664.05 375.97 L664.30 375.72 L664.55 375.63 L664.80 375.51 L665.05 375.21 L665.30 374.82 L665.55 375.35 L665.80 375.72 L666.05 375.70 L666.30 375.68 L666.55 375.67 L666.80 375.66 L667.05 375.17 L667.30 374.46 L667.55 375.09 L667.80 375.55 L668.05 375.84 L668.30 376.03 L668.55 376.15 L668.80 376.19 L669.05 376.19 L669.30 376.19 L669.55 376.17 L669.80 376.11 L670.05 375.99 L670.30 375.78 L670.55 375.51 L670.80 375.16 L671.05 375.17 L671.30 375.19 L671.55 375.30 L671.80 375.41 L672.05 375.58 L672.30 375.73 L672.55 375.96 L672.80 376.09 L673.05 376.14 L673.30 376.17 L673.55 376.14 L673.80 376.10 L674.05 376.08 L674.30 376.06 L674.55 376.02 L674.80 375.97 L675.05 376.03 L675.30 376.07 L675.55 376.08 L675.80 376.09 L676.05 376.08 L676.30 376.07 L676.55 376.06 L676.80 376.05 L677.05 375.97 L677.30 375.84 L677.55 375.77 L677.80 375.70 L678.05 375.63 L678.30 375.54 L678.55 375.38 L678.80 375.19 L679.05 375.01 L679.30 374.80 L679.55 374.37 L679.80 373.83 L680.05 373.81 L680.30 373.72 L680.55 373.63 L680.80 373.46 L681.05 373.22 L681.30 372.92 L681.55 372.56 L681.80 372.18 L682.05 371.68 L682.30 371.09 L682.55 370.74 L682.80 370.40 L683.05 369.98 L683.30 369.58 L683.55 369.42 L683.70 369.33 L683.80 369.45 L684.05 369.74 L684.30 370.07 L684.55 370.35 L684.80 370.64 L685.05 371.15 L685.30 371.63 L685.55 371.89 L685.80 372.08 L686.05 372.70 L686.30 373.22 L686.55 373.59 L686.80 373.93 L687.05 374.30 L687.30 374.60 L687.55 374.82 L687.80 374.99 L688.05 374.99 L688.30 374.79 L688.55 375.02 L688.80 375.21 L689.05 375.41 L689.30 375.57 L689.55 375.75 L689.80 375.87 L690.05 375.77 L690.30 375.55 L690.55 375.69 L690.80 375.81 L691.05 375.82 L691.30 375.84 L691.55 375.95 L691.80 376.04 L692.05 375.93 L692.30 375.75 L692.55 375.83 L692.80 375.90 L693.05 375.71 L693.30 375.44 L693.55 375.70 L693.80 375.89 L694.05 375.91 L694.30 375.92 L694.55 375.98 L694.80 376.04 L695.05 375.99 L695.30 375.94 L695.55 375.97 L695.80 376.00 L696.05 376.01 L696.30 376.03 L696.55 376.10 L696.80 376.14 L697.05 376.06 L697.30 375.90 L697.55 375.88 L697.80 375.87 L698.05 375.59 L698.30 375.19 L698.55 375.30 L698.80 375.39 L699.05 375.57 L699.30 375.72 L699.55 375.86 L699.80 375.97 L700.05 376.02 L700.30 376.07 L700.55 375.95 L700.80 375.79 L701.05 375.89 L701.30 375.98 L701.55 375.84 L701.80 375.64 L702.05 375.95 L702.30 376.11 L702.55 376.10 L702.80 376.08 L703.05 376.15 L703.30 376.19 L703.55 376.13 L703.80 375.98 L704.05 375.90 L704.30 375.80 L704.55 375.76 L704.80 375.72 L705.05 375.72 L705.30 375.73 L705.55 375.83 L705.80 375.91 L706.05 375.89 L706.30 375.86 L706.55 375.96 L706.80 376.04 L707.05 375.92 L707.30 375.74 L707.55 375.62 L707.80 375.47 L708.05 375.41 L708.30 375.35 L708.55 375.56 L708.80 375.74 L709.05 375.89 L709.30 376.00 L709.55 376.09 L709.80 376.15 L710.05 376.09 L710.30 376.00 L710.55 375.92 L710.80 375.81 L711.05 375.56 L711.30 375.23 L711.55 375.60 L711.80 375.87 L712.05 375.93 L712.30 375.99 L712.55 375.98 L712.80 375.97 L713.05 375.86 L713.30 375.71 L713.55 375.83 L713.80 375.92 L714.05 376.00 L714.30 376.06 L714.55 376.00 L714.80 375.93 L715.05 375.89 L715.30 375.86 L715.55 375.94 L715.80 376.01 L716.05 376.11 L716.30 376.17 L716.55 376.12 L716.80 376.05 L717.05 375.90 L717.30 375.66 L717.55 375.72 L717.80 375.78 L718.05 375.95 L718.30 376.07 L718.55 376.15 L718.80 376.19 L719.05 376.18 L719.30 376.17 L719.55 376.13 L719.80 376.09 L720.05 376.10 L720.30 376.11 L720.55 376.11 L720.80 376.11 L721.05 376.15 L721.30 376.17 L721.55 376.09 L721.80 375.92 L722.05 375.78 L722.30 375.62 L722.55 375.66 L722.80 375.70 L723.05 375.70 L723.30 375.71 L723.55 375.92 L723.80 376.06 L724.05 376.01 L724.30 375.94 L724.55 375.93 L724.80 375.93 L725.05 375.69 L725.30 375.33 L725.55 375.11 L725.80 374.84 L726.05 375.24 L726.30 375.55 L726.55 375.81 L726.80 375.98 L727.05 376.00 L727.30 376.03 L727.55 376.08 L727.80 376.13 L728.05 376.13 L728.30 376.13 L728.55 376.15 L728.80 376.17 L729.05 376.17 L729.30 376.18 L729.55 376.17 L729.80 376.15" fill="none" stroke="#ee5253" stroke-width="1.15" stroke-linejoin="round"/>
<rect x="67.30" y="1.35" width="663.00" height="182.15" fill="none" stroke="#2b2b2b" stroke-width="1"/>
<text x="60.6" y="189.00" font-size="14.5" text-anchor="end" letter-spacing="-0.1">0</text>
<line x1="67.30" y1="150.90" x2="72.80" y2="150.90" stroke="#2b2b2b" stroke-width="1"/>
<text x="60.6" y="155.80" font-size="14.5" text-anchor="end" letter-spacing="-0.1">5000</text>
<line x1="67.30" y1="118.60" x2="72.80" y2="118.60" stroke="#2b2b2b" stroke-width="1"/>
<text x="60.6" y="123.50" font-size="14.5" text-anchor="end" letter-spacing="-0.1">10000</text>
<line x1="67.30" y1="86.30" x2="72.80" y2="86.30" stroke="#2b2b2b" stroke-width="1"/>
<text x="60.6" y="91.20" font-size="14.5" text-anchor="end" letter-spacing="-0.1">15000</text>
<line x1="67.30" y1="54.00" x2="72.80" y2="54.00" stroke="#2b2b2b" stroke-width="1"/>
<text x="60.6" y="58.90" font-size="14.5" text-anchor="end" letter-spacing="-0.1">20000</text>
<line x1="67.30" y1="21.70" x2="72.80" y2="21.70" stroke="#2b2b2b" stroke-width="1"/>
<text x="60.6" y="26.60" font-size="14.5" text-anchor="end" letter-spacing="-0.1">25000</text>
<line x1="81.40" y1="183.50" x2="81.40" y2="178.50" stroke="#2b2b2b" stroke-width="1"/>
<line x1="113.75" y1="183.50" x2="113.75" y2="178.50" stroke="#2b2b2b" stroke-width="1"/>
<line x1="146.10" y1="183.50" x2="146.10" y2="178.50" stroke="#2b2b2b" stroke-width="1"/>
<line x1="178.45" y1="183.50" x2="178.45" y2="178.50" stroke="#2b2b2b" stroke-width="1"/>
<line x1="210.80" y1="183.50" x2="210.80" y2="178.50" stroke="#2b2b2b" stroke-width="1"/>
<line x1="243.15" y1="183.50" x2="243.15" y2="178.50" stroke="#2b2b2b" stroke-width="1"/>
<line x1="275.50" y1="183.50" x2="275.50" y2="178.50" stroke="#2b2b2b" stroke-width="1"/>
<line x1="307.85" y1="183.50" x2="307.85" y2="178.50" stroke="#2b2b2b" stroke-width="1"/>
<line x1="340.20" y1="183.50" x2="340.20" y2="178.50" stroke="#2b2b2b" stroke-width="1"/>
<line x1="372.55" y1="183.50" x2="372.55" y2="178.50" stroke="#2b2b2b" stroke-width="1"/>
<line x1="404.90" y1="183.50" x2="404.90" y2="178.50" stroke="#2b2b2b" stroke-width="1"/>
<line x1="437.25" y1="183.50" x2="437.25" y2="178.50" stroke="#2b2b2b" stroke-width="1"/>
<line x1="469.60" y1="183.50" x2="469.60" y2="178.50" stroke="#2b2b2b" stroke-width="1"/>
<line x1="501.95" y1="183.50" x2="501.95" y2="178.50" stroke="#2b2b2b" stroke-width="1"/>
<line x1="534.30" y1="183.50" x2="534.30" y2="178.50" stroke="#2b2b2b" stroke-width="1"/>
<line x1="566.65" y1="183.50" x2="566.65" y2="178.50" stroke="#2b2b2b" stroke-width="1"/>
<line x1="599.00" y1="183.50" x2="599.00" y2="178.50" stroke="#2b2b2b" stroke-width="1"/>
<line x1="631.35" y1="183.50" x2="631.35" y2="178.50" stroke="#2b2b2b" stroke-width="1"/>
<line x1="663.70" y1="183.50" x2="663.70" y2="178.50" stroke="#2b2b2b" stroke-width="1"/>
<line x1="696.05" y1="183.50" x2="696.05" y2="178.50" stroke="#2b2b2b" stroke-width="1"/>
<line x1="728.40" y1="183.50" x2="728.40" y2="178.50" stroke="#2b2b2b" stroke-width="1"/>
<rect x="67.30" y="193.90" width="663.00" height="182.70" fill="none" stroke="#2b2b2b" stroke-width="1"/>
<text x="60.6" y="381.80" font-size="14.5" text-anchor="end" letter-spacing="-0.1">0</text>
<line x1="67.30" y1="343.60" x2="72.80" y2="343.60" stroke="#2b2b2b" stroke-width="1"/>
<text x="60.6" y="348.50" font-size="14.5" text-anchor="end" letter-spacing="-0.1">5000</text>
<line x1="67.30" y1="311.20" x2="72.80" y2="311.20" stroke="#2b2b2b" stroke-width="1"/>
<text x="60.6" y="316.10" font-size="14.5" text-anchor="end" letter-spacing="-0.1">10000</text>
<line x1="67.30" y1="278.80" x2="72.80" y2="278.80" stroke="#2b2b2b" stroke-width="1"/>
<text x="60.6" y="283.70" font-size="14.5" text-anchor="end" letter-spacing="-0.1">15000</text>
<line x1="67.30" y1="246.40" x2="72.80" y2="246.40" stroke="#2b2b2b" stroke-width="1"/>
<text x="60.6" y="251.30" font-size="14.5" text-anchor="end" letter-spacing="-0.1">20000</text>
<line x1="67.30" y1="214.00" x2="72.80" y2="214.00" stroke="#2b2b2b" stroke-width="1"/>
<text x="60.6" y="218.90" font-size="14.5" text-anchor="end" letter-spacing="-0.1">25000</text>
<line x1="81.40" y1="376.60" x2="81.40" y2="371.60" stroke="#2b2b2b" stroke-width="1"/>
<line x1="113.75" y1="376.60" x2="113.75" y2="371.60" stroke="#2b2b2b" stroke-width="1"/>
<line x1="146.10" y1="376.60" x2="146.10" y2="371.60" stroke="#2b2b2b" stroke-width="1"/>
<line x1="178.45" y1="376.60" x2="178.45" y2="371.60" stroke="#2b2b2b" stroke-width="1"/>
<line x1="210.80" y1="376.60" x2="210.80" y2="371.60" stroke="#2b2b2b" stroke-width="1"/>
<line x1="243.15" y1="376.60" x2="243.15" y2="371.60" stroke="#2b2b2b" stroke-width="1"/>
<line x1="275.50" y1="376.60" x2="275.50" y2="371.60" stroke="#2b2b2b" stroke-width="1"/>
<line x1="307.85" y1="376.60" x2="307.85" y2="371.60" stroke="#2b2b2b" stroke-width="1"/>
<line x1="340.20" y1="376.60" x2="340.20" y2="371.60" stroke="#2b2b2b" stroke-width="1"/>
<line x1="372.55" y1="376.60" x2="372.55" y2="371.60" stroke="#2b2b2b" stroke-width="1"/>
<line x1="404.90" y1="376.60" x2="404.90" y2="371.60" stroke="#2b2b2b" stroke-width="1"/>
<line x1="437.25" y1="376.60" x2="437.25" y2="371.60" stroke="#2b2b2b" stroke-width="1"/>
<line x1="469.60" y1="376.60" x2="469.60" y2="371.60" stroke="#2b2b2b" stroke-width="1"/>
<line x1="501.95" y1="376.60" x2="501.95" y2="371.60" stroke="#2b2b2b" stroke-width="1"/>
<line x1="534.30" y1="376.60" x2="534.30" y2="371.60" stroke="#2b2b2b" stroke-width="1"/>
<line x1="566.65" y1="376.60" x2="566.65" y2="371.60" stroke="#2b2b2b" stroke-width="1"/>
<line x1="599.00" y1="376.60" x2="599.00" y2="371.60" stroke="#2b2b2b" stroke-width="1"/>
<line x1="631.35" y1="376.60" x2="631.35" y2="371.60" stroke="#2b2b2b" stroke-width="1"/>
<line x1="663.70" y1="376.60" x2="663.70" y2="371.60" stroke="#2b2b2b" stroke-width="1"/>
<line x1="696.05" y1="376.60" x2="696.05" y2="371.60" stroke="#2b2b2b" stroke-width="1"/>
<line x1="728.40" y1="376.60" x2="728.40" y2="371.60" stroke="#2b2b2b" stroke-width="1"/>
<text x="81.40" y="390.7" font-size="10.5" text-anchor="middle" letter-spacing="-0.35">807</text>
<text x="113.75" y="390.7" font-size="10.5" text-anchor="middle" letter-spacing="-0.35">807.25</text>
<text x="146.10" y="390.7" font-size="10.5" text-anchor="middle" letter-spacing="-0.35">807.5</text>
<text x="178.45" y="390.7" font-size="10.5" text-anchor="middle" letter-spacing="-0.35">807.75</text>
<text x="210.80" y="390.7" font-size="10.5" text-anchor="middle" letter-spacing="-0.35">808</text>
<text x="243.15" y="390.7" font-size="10.5" text-anchor="middle" letter-spacing="-0.35">808.25</text>
<text x="275.50" y="390.7" font-size="10.5" text-anchor="middle" letter-spacing="-0.35">808.5</text>
<text x="307.85" y="390.7" font-size="10.5" text-anchor="middle" letter-spacing="-0.35">808.75</text>
<text x="340.20" y="390.7" font-size="10.5" text-anchor="middle" letter-spacing="-0.35">809</text>
<text x="372.55" y="390.7" font-size="10.5" text-anchor="middle" letter-spacing="-0.35">809.25</text>
<text x="404.90" y="390.7" font-size="10.5" text-anchor="middle" letter-spacing="-0.35">809.5</text>
<text x="437.25" y="390.7" font-size="10.5" text-anchor="middle" letter-spacing="-0.35">809.75</text>
<text x="469.60" y="390.7" font-size="10.5" text-anchor="middle" letter-spacing="-0.35">810</text>
<text x="501.95" y="390.7" font-size="10.5" text-anchor="middle" letter-spacing="-0.35">810.25</text>
<text x="534.30" y="390.7" font-size="10.5" text-anchor="middle" letter-spacing="-0.35">810.5</text>
<text x="566.65" y="390.7" font-size="10.5" text-anchor="middle" letter-spacing="-0.35">810.75</text>
<text x="599.00" y="390.7" font-size="10.5" text-anchor="middle" letter-spacing="-0.35">811</text>
<text x="631.35" y="390.7" font-size="10.5" text-anchor="middle" letter-spacing="-0.35">811.25</text>
<text x="663.70" y="390.7" font-size="10.5" text-anchor="middle" letter-spacing="-0.35">811.5</text>
<text x="696.05" y="390.7" font-size="10.5" text-anchor="middle" letter-spacing="-0.35">811.75</text>
<text x="728.40" y="390.7" font-size="10.5" text-anchor="middle" letter-spacing="-0.35">812</text>
<text transform="translate(13.5,92.5) rotate(-90)" font-size="14.5" font-weight="bold" text-anchor="middle">Intensity (Counts)</text>
<text transform="translate(13.5,285.5) rotate(-90)" font-size="14.5" font-weight="bold" text-anchor="middle">Intensity (Counts)</text>
<text x="398.2" y="410" font-size="14.5" font-weight="bold" text-anchor="middle">Observed mass (<tspan font-style="italic">m</tspan>/<tspan font-style="italic">z</tspan>)</text>
<text x="81.3" y="26.8" font-size="22" font-weight="bold">a</text>
<text x="81.5" y="219.4" font-size="22" font-weight="bold">b</text>
<text x="167.00" y="132.80" font-size="10.7" text-anchor="middle" letter-spacing="-0.4">807.65506</text>
<text x="210.00" y="116.90" font-size="10.7" text-anchor="middle" letter-spacing="-0.4">807.99097</text>
<text x="253.20" y="137.00" font-size="10.7" text-anchor="middle" letter-spacing="-0.4">808.32696</text>
<text x="296.00" y="149.30" font-size="10.7" text-anchor="middle" letter-spacing="-0.4">808.65579</text>
<text x="338.60" y="163.50" font-size="10.7" text-anchor="middle" letter-spacing="-0.4">808.99191</text>
<text x="382.50" y="175.30" font-size="10.7" text-anchor="middle" letter-spacing="-0.4">808.32449</text>
<text x="425.00" y="162.80" font-size="10.7" text-anchor="middle" letter-spacing="-0.4">809.66075</text>
<text x="469.00" y="149.70" font-size="10.7" text-anchor="middle" letter-spacing="-0.4">809.99347</text>
<text x="512.60" y="158.60" font-size="10.7" text-anchor="middle" letter-spacing="-0.4">810.32987</text>
<text x="555.50" y="168.10" font-size="10.7" text-anchor="middle" letter-spacing="-0.4">810.66272</text>
<text x="598.80" y="176.70" font-size="10.7" text-anchor="middle" letter-spacing="-0.4">810.98841</text>
<text x="208.90" y="241.10" font-size="10.7" text-anchor="middle" letter-spacing="-0.4">807.98375</text>
<text x="280.50" y="205.60" font-size="10.7" text-anchor="middle" letter-spacing="-0.4">808.31973</text>
<text x="294.90" y="222.00" font-size="10.7" text-anchor="middle" letter-spacing="-0.4">808.65217</text>
<text x="337.90" y="289.80" font-size="10.7" text-anchor="middle" letter-spacing="-0.4">808.98468</text>
<text x="382.20" y="333.50" font-size="10.7" text-anchor="middle" letter-spacing="-0.4">809.31726</text>
<text x="424.70" y="353.10" font-size="10.7" text-anchor="middle" letter-spacing="-0.4">809.65352</text>
<text x="468.20" y="334.00" font-size="10.7" text-anchor="middle" letter-spacing="-0.4">809.98985</text>
<text x="510.30" y="344.80" font-size="10.7" text-anchor="middle" letter-spacing="-0.4">810.32264</text>
<text x="554.80" y="334.00" font-size="10.7" text-anchor="middle" letter-spacing="-0.4">810.65911</text>
<text x="598.00" y="359.20" font-size="10.7" text-anchor="middle" letter-spacing="-0.4">810.99203</text>
<text x="641.50" y="349.60" font-size="10.7" text-anchor="middle" letter-spacing="-0.4">811.32864</text>
<text x="682.50" y="366.60" font-size="10.7" text-anchor="middle" letter-spacing="-0.4">811.65445</text>
<text x="95.80" y="364.10" font-size="10.7" text-anchor="middle" letter-spacing="-0.4">806.97983</text>
<text x="165.80" y="364.80" font-size="10.7" text-anchor="middle" letter-spacing="-0.4">807.66228</text>
<text x="229.40" y="361.20" font-size="10.7" text-anchor="middle" letter-spacing="-0.4">807.03071</text>
<line x1="79.4" y1="370.3" x2="80.9" y2="366.6" stroke="#444" stroke-width="0.6"/>
<line x1="215.7" y1="368.9" x2="217.1" y2="365.4" stroke="#444" stroke-width="0.6"/>
<path d="M252.7 202.5 L255.9 202.5" fill="none" stroke="#777" stroke-width="0.8"/>
</svg></body></html>
